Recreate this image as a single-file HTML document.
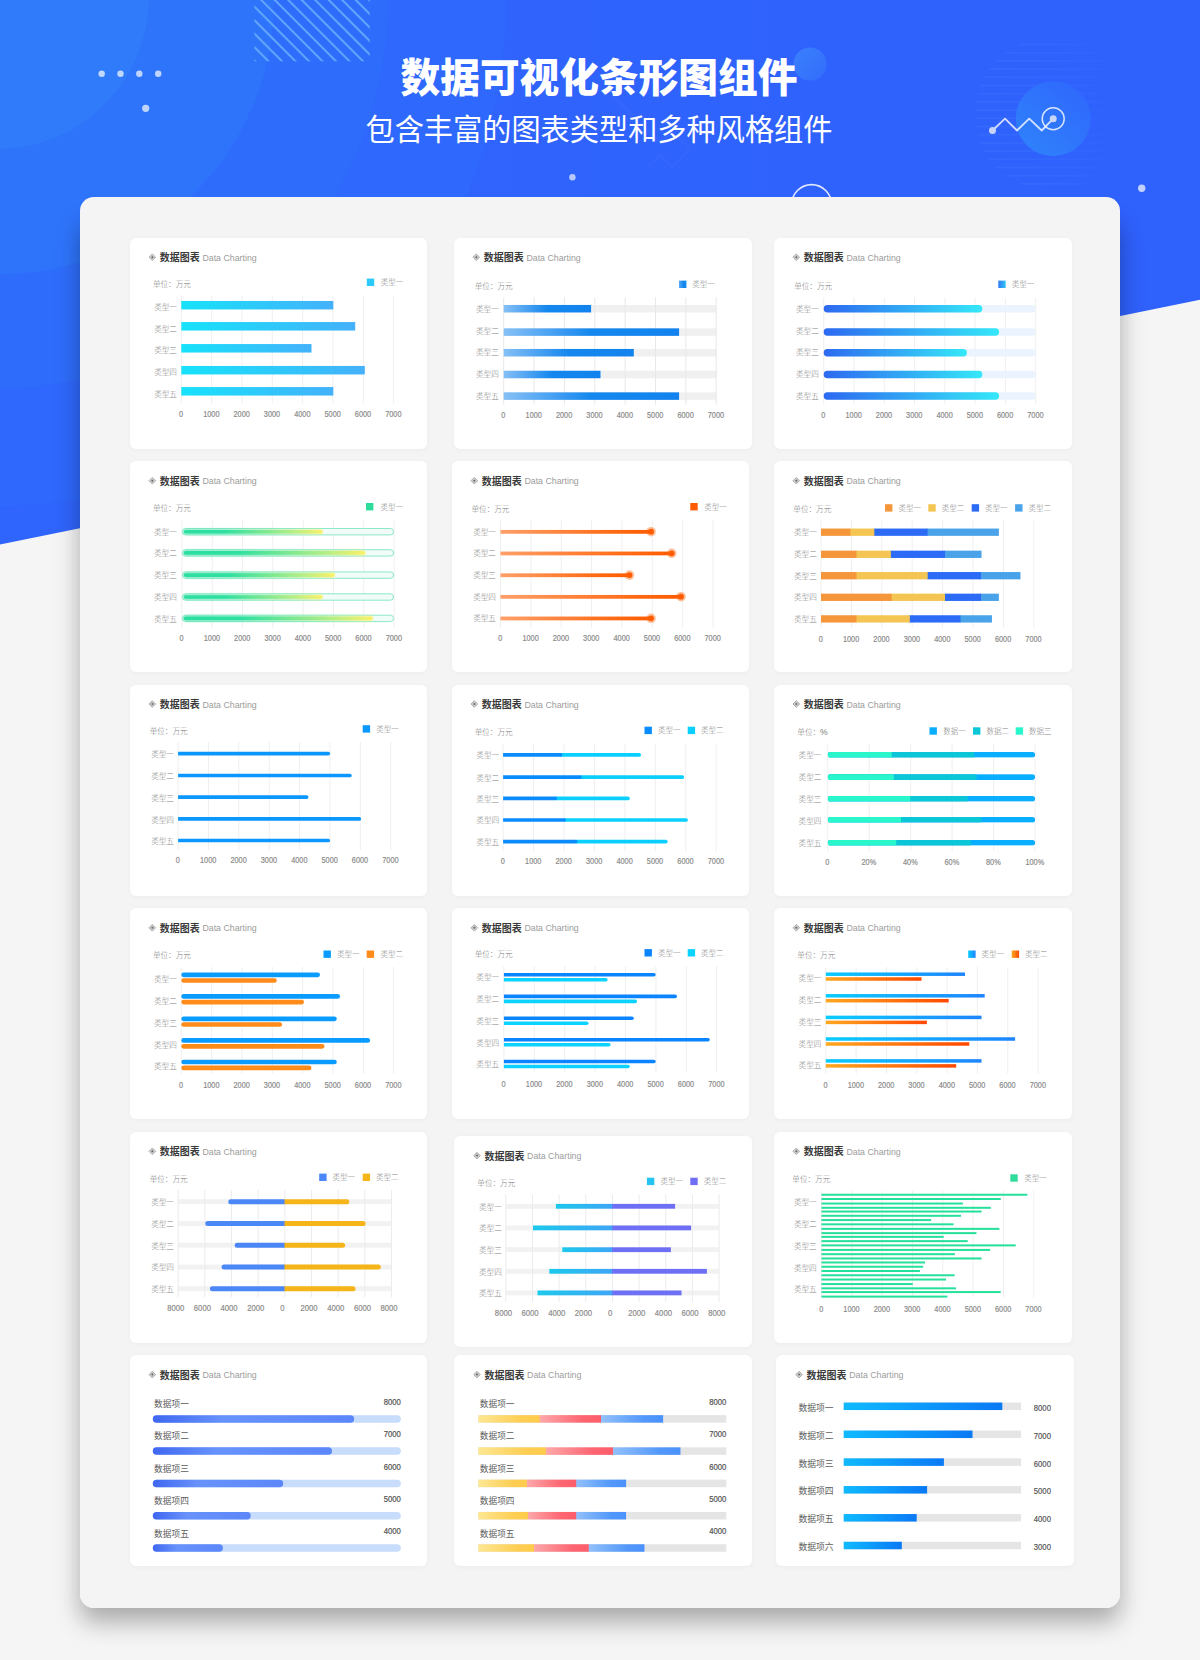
<!DOCTYPE html>
<html lang="zh-CN">
<head>
<meta charset="utf-8">
<title>数据可视化条形图组件</title>
<style>
html,body{margin:0;padding:0}
body{width:1200px;height:1660px;position:relative;overflow:hidden;background:#f5f5f5;font-family:"Liberation Sans", "Noto Sans CJK SC", sans-serif}
.hero{position:absolute;left:0;top:0;width:1200px;height:560px;background:linear-gradient(90deg,#2f65fc 0%,#2f61fd 100%);clip-path:polygon(0 0,1200px 0,1200px 299.8px,0 544.6px);overflow:hidden}
.hero svg{position:absolute;left:0;top:0}
h1{position:absolute;left:0;top:53.5px;width:1198px;margin:0;text-align:center;color:#fff;font-size:39.7px;line-height:48px;font-weight:900;letter-spacing:0}
h2{position:absolute;left:0;top:110.3px;width:1198px;margin:0;text-align:center;color:#fff;font-size:29.2px;line-height:40px;font-weight:normal}
.pshadow{position:absolute;left:80px;top:209px;width:1040px;height:1399px;border-radius:14px;box-shadow:0 14px 25px rgba(0,0,0,0.31)}
.panel{position:absolute;left:80px;top:197px;width:1040px;height:1411px;background:#f4f4f4;border-radius:14px}
.card{position:absolute;width:297.3px;height:211px;background:#fff;border-radius:6px;box-shadow:0 1px 5px rgba(0,0,0,0.035)}
.charts{position:absolute;left:0;top:0}
.charts text{font-family:"Liberation Sans", "Noto Sans CJK SC", sans-serif}
</style>
</head>
<body>
<div class="hero">
<svg width="1200" height="560" viewBox="0 0 1200 560">
<defs>
<clipPath id="stripeclip"><rect x="254.5" y="0" width="115.2" height="61.3"/></clipPath>
<clipPath id="circclip"><circle cx="1052" cy="114" r="77"/></clipPath>
<linearGradient id="gsm" x1="0" y1="0" x2="1" y2="1"><stop offset="0" stop-color="#3a80fc"/><stop offset="1" stop-color="#336dfc"/></linearGradient>
<linearGradient id="gbig" x1="0.15" y1="0.9" x2="0.85" y2="0.1"><stop offset="0" stop-color="#2f80fb"/><stop offset="1" stop-color="#2f69fc"/></linearGradient>
<linearGradient id="gline" gradientUnits="userSpaceOnUse" x1="975" y1="0" x2="1125" y2="0"><stop offset="0" stop-color="#4a8cff" stop-opacity="0.55"/><stop offset="0.55" stop-color="#4a8cff" stop-opacity="0.4"/><stop offset="1" stop-color="#4a8cff" stop-opacity="0"/></linearGradient>
</defs>
<circle cx="0" cy="0" r="506" fill="#2e68fc"/>
<circle cx="0" cy="0" r="388" fill="#2e6dfb"/>
<circle cx="0" cy="0" r="274" fill="#2e74fb"/>
<circle cx="-3" cy="-3" r="152" fill="#2f7bfa"/>
<g clip-path="url(#stripeclip)" stroke="#66abfa" stroke-opacity="0.9" stroke-width="2.05">
<line x1="121.25" y1="-5" x2="201.25" y2="75"/>
<line x1="134.75" y1="-5" x2="214.75" y2="75"/>
<line x1="148.25" y1="-5" x2="228.25" y2="75"/>
<line x1="161.75" y1="-5" x2="241.75" y2="75"/>
<line x1="175.25" y1="-5" x2="255.25" y2="75"/>
<line x1="188.75" y1="-5" x2="268.75" y2="75"/>
<line x1="202.25" y1="-5" x2="282.25" y2="75"/>
<line x1="215.75" y1="-5" x2="295.75" y2="75"/>
<line x1="229.25" y1="-5" x2="309.25" y2="75"/>
<line x1="242.75" y1="-5" x2="322.75" y2="75"/>
<line x1="256.25" y1="-5" x2="336.25" y2="75"/>
<line x1="269.75" y1="-5" x2="349.75" y2="75"/>
<line x1="283.25" y1="-5" x2="363.25" y2="75"/>
<line x1="296.75" y1="-5" x2="376.75" y2="75"/>
<line x1="310.25" y1="-5" x2="390.25" y2="75"/>
<line x1="323.75" y1="-5" x2="403.75" y2="75"/>
<line x1="337.25" y1="-5" x2="417.25" y2="75"/>
<line x1="350.75" y1="-5" x2="430.75" y2="75"/>
<line x1="364.25" y1="-5" x2="444.25" y2="75"/>
<line x1="377.75" y1="-5" x2="457.75" y2="75"/>
</g>
<circle cx="101.7" cy="73.7" r="3.2" fill="#fff" fill-opacity="0.7"/>
<circle cx="120.5" cy="73.7" r="3.2" fill="#fff" fill-opacity="0.7"/>
<circle cx="139.3" cy="73.7" r="3.2" fill="#fff" fill-opacity="0.7"/>
<circle cx="158.2" cy="73.7" r="3.2" fill="#fff" fill-opacity="0.7"/>
<circle cx="145.7" cy="108.3" r="3.6" fill="#fff" fill-opacity="0.7"/>
<circle cx="572.4" cy="177.2" r="3.2" fill="#fff" fill-opacity="0.65"/>
<circle cx="1141.7" cy="188.2" r="3.7" fill="#fff" fill-opacity="0.7"/>
<circle cx="810" cy="64" r="16.5" fill="url(#gsm)"/>
<circle cx="811.6" cy="204.6" r="20" fill="none" stroke="#fff" stroke-opacity="0.85" stroke-width="1.6"/>
<g clip-path="url(#circclip)" stroke="#4f8dff" stroke-opacity="0.35" stroke-width="1.6">
<line x1="970" y1="44.5" x2="1130" y2="44.51" stroke="url(#gline)"/>
<line x1="970" y1="52.7" x2="1130" y2="52.71" stroke="url(#gline)"/>
<line x1="970" y1="60.9" x2="1130" y2="60.91" stroke="url(#gline)"/>
<line x1="970" y1="69.1" x2="1130" y2="69.11" stroke="url(#gline)"/>
<line x1="970" y1="77.3" x2="1130" y2="77.31" stroke="url(#gline)"/>
<line x1="970" y1="85.5" x2="1130" y2="85.51" stroke="url(#gline)"/>
<line x1="970" y1="93.7" x2="1130" y2="93.71" stroke="url(#gline)"/>
<line x1="970" y1="101.9" x2="1130" y2="101.91" stroke="url(#gline)"/>
<line x1="970" y1="110.1" x2="1130" y2="110.11" stroke="url(#gline)"/>
<line x1="970" y1="118.3" x2="1130" y2="118.31" stroke="url(#gline)"/>
<line x1="970" y1="126.5" x2="1130" y2="126.51" stroke="url(#gline)"/>
<line x1="970" y1="134.7" x2="1130" y2="134.71" stroke="url(#gline)"/>
<line x1="970" y1="142.9" x2="1130" y2="142.91" stroke="url(#gline)"/>
<line x1="970" y1="151.1" x2="1130" y2="151.11" stroke="url(#gline)"/>
<line x1="970" y1="159.3" x2="1130" y2="159.31" stroke="url(#gline)"/>
<line x1="970" y1="167.5" x2="1130" y2="167.51" stroke="url(#gline)"/>
<line x1="970" y1="175.7" x2="1130" y2="175.71" stroke="url(#gline)"/>
<line x1="970" y1="183.9" x2="1130" y2="183.91" stroke="url(#gline)"/>
</g>
<circle cx="1053.3" cy="118.7" r="37.5" fill="url(#gbig)"/>
<polyline points="992.5,130.5 1005,118.7 1017,130.5 1029.2,118.7 1041.7,130.5 1053.2,118.7" fill="none" stroke="#fff" stroke-opacity="0.78" stroke-width="1.8" stroke-linejoin="round"/>
<circle cx="992.5" cy="130.5" r="3.5" fill="#c9d4fb"/>
<circle cx="1053.2" cy="118.7" r="3.5" fill="#c9d4fb"/>
<circle cx="1053.2" cy="118.7" r="11" fill="none" stroke="#fff" stroke-opacity="0.8" stroke-width="1.5"/>
<polyline points="612,95 660,143 672,131 690,149 672,167 660,155 648,167" fill="none" stroke="#fff" stroke-opacity="0.025" stroke-width="3"/>
</svg>
</div>
<h1>数据可视化条形图组件</h1>
<h2>包含丰富的图表类型和多种风格组件</h2>
<div class="pshadow"></div>
<div class="panel"></div>
<div class="card" style="left:130px;top:238px"></div><div class="card" style="left:454px;top:238px;width:298px"></div><div class="card" style="left:774px;top:238px;width:298px"></div><div class="card" style="left:130px;top:461.4px"></div><div class="card" style="left:452px;top:461.4px"></div><div class="card" style="left:774px;top:461.4px;width:298px"></div><div class="card" style="left:130px;top:684.8px"></div><div class="card" style="left:452px;top:684.8px"></div><div class="card" style="left:774px;top:684.8px;width:298px"></div><div class="card" style="left:130px;top:908.2px"></div><div class="card" style="left:452px;top:908.2px"></div><div class="card" style="left:774px;top:908.2px;width:298px"></div><div class="card" style="left:130px;top:1131.7px"></div><div class="card" style="left:454px;top:1135.8px;width:298px"></div><div class="card" style="left:774px;top:1131.7px;width:298px"></div><div class="card" style="left:130px;top:1355px"></div><div class="card" style="left:454.2px;top:1355px;width:298px"></div><div class="card" style="left:776.2px;top:1355px;width:298px"></div>
<svg class="charts" width="1200" height="1660" viewBox="0 0 1200 1660">
<defs>
<linearGradient id="g1" x1="0" y1="0" x2="1" y2="0"><stop offset="0" stop-color="#17e2fa"/><stop offset="1" stop-color="#44b1fb"/></linearGradient>
<linearGradient id="g2" x1="0" y1="0" x2="1" y2="0"><stop offset="0" stop-color="#86c0f6"/><stop offset="0.5" stop-color="#1487ee"/><stop offset="1" stop-color="#1283ee"/></linearGradient>
<linearGradient id="g2l" x1="0" y1="0" x2="1" y2="0"><stop offset="0" stop-color="#5aa9f3"/><stop offset="0.6" stop-color="#1487ee"/></linearGradient>
<linearGradient id="g3" x1="0" y1="0" x2="1" y2="0"><stop offset="0" stop-color="#2d69f0"/><stop offset="1" stop-color="#35e8f8"/></linearGradient>
<linearGradient id="g3l" x1="0" y1="0" x2="1" y2="0"><stop offset="0" stop-color="#2d7af2"/><stop offset="1" stop-color="#33c4f6"/></linearGradient>
<linearGradient id="g4" x1="0" y1="0" x2="1" y2="0"><stop offset="0" stop-color="#2bdfa0"/><stop offset="0.3" stop-color="#2fe0a0"/><stop offset="0.8" stop-color="#b9ee84"/><stop offset="1" stop-color="#fbf168"/></linearGradient>
<filter id="glow4" x="-5%" y="-100%" width="110%" height="300%"><feGaussianBlur stdDeviation="1.1"/></filter>
<linearGradient id="g5" x1="0" y1="0" x2="1" y2="0"><stop offset="0" stop-color="#ff9f68"/><stop offset="0.75" stop-color="#ff6a14"/><stop offset="1" stop-color="#ff5b00"/></linearGradient>
<clipPath id="c9_0"><rect x="827.7" y="751.9" width="207.4" height="5.6" rx="2.8"/></clipPath>
<clipPath id="c9_1"><rect x="827.7" y="774.3" width="207.4" height="5.6" rx="2.8"/></clipPath>
<clipPath id="c9_2"><rect x="827.7" y="795.9" width="207.4" height="5.6" rx="2.8"/></clipPath>
<clipPath id="c9_3"><rect x="827.7" y="816.9" width="207.4" height="5.6" rx="2.8"/></clipPath>
<clipPath id="c9_4"><rect x="827.7" y="839.9" width="207.4" height="5.6" rx="2.8"/></clipPath>
<linearGradient id="g12b" x1="0" y1="0" x2="1" y2="0"><stop offset="0" stop-color="#09ccff"/><stop offset="1" stop-color="#1e84ff"/></linearGradient>
<linearGradient id="g12o" x1="0" y1="0" x2="1" y2="0"><stop offset="0" stop-color="#ffa820"/><stop offset="1" stop-color="#ff4800"/></linearGradient>
<linearGradient id="g14" x1="0" y1="0" x2="1" y2="0"><stop offset="0" stop-color="#1cc9ec"/><stop offset="1" stop-color="#3ea6f6"/></linearGradient>
<linearGradient id="g16" x1="0" y1="0" x2="1" y2="0"><stop offset="0" stop-color="#3f67f1"/><stop offset="0.35" stop-color="#6892fb"/><stop offset="1" stop-color="#5b87fa"/></linearGradient>
<linearGradient id="g17y" x1="0" y1="0" x2="1" y2="0"><stop offset="0" stop-color="#fde793"/><stop offset="0.7" stop-color="#fece54"/><stop offset="1" stop-color="#ffcb4a"/></linearGradient>
<linearGradient id="g17r" x1="0" y1="0" x2="1" y2="0"><stop offset="0" stop-color="#fda9ab"/><stop offset="0.7" stop-color="#fe6571"/><stop offset="1" stop-color="#ff5d6b"/></linearGradient>
<linearGradient id="g17b" x1="0" y1="0" x2="1" y2="0"><stop offset="0" stop-color="#93c1fb"/><stop offset="0.7" stop-color="#5298fb"/><stop offset="1" stop-color="#4a91fd"/></linearGradient>
<linearGradient id="g18" x1="0" y1="0" x2="1" y2="0"><stop offset="0" stop-color="#0fbaff"/><stop offset="1" stop-color="#0a79f5"/></linearGradient>
</defs>
<path d="M149 257.2L152.3 253.9L155.6 257.2L152.3 260.5Z" fill="#cfcfcf" stroke="#a6a6a6" stroke-width="0.9"/>
<path d="M151.05 257.2L152.3 255.95L153.55 257.2L152.3 258.45Z" fill="#666"/>
<text x="159.8" y="261.25" font-size="10" fill="#3a3a3a" font-weight="bold">数据图表</text>
<text x="202.4" y="260.77" font-size="8.8" fill="#9c9c9c">Data Charting</text>
<text x="152.9" y="287.01" font-size="7.6" fill="#7c7c7c" font-weight="300">单位：万元</text>
<rect x="366.8" y="278.6" width="7.4" height="7.4" fill="#2cc9fb"/>
<text x="380.8" y="285.38" font-size="7.5" fill="#828282" font-weight="300">类型一</text>
<rect x="180.8" y="295.3" width="1" height="108" fill="#efefef"/>
<rect x="211.13" y="295.3" width="1" height="108" fill="#efefef"/>
<rect x="241.46" y="295.3" width="1" height="108" fill="#efefef"/>
<rect x="271.79" y="295.3" width="1" height="108" fill="#efefef"/>
<rect x="302.11" y="295.3" width="1" height="108" fill="#efefef"/>
<rect x="332.44" y="295.3" width="1" height="108" fill="#efefef"/>
<rect x="362.77" y="295.3" width="1" height="108" fill="#efefef"/>
<rect x="393.1" y="295.3" width="1" height="108" fill="#efefef"/>
<text x="154.2" y="309.91" font-size="7.6" fill="#828282" font-weight="300">类型一</text>
<text x="154.2" y="331.81" font-size="7.6" fill="#828282" font-weight="300">类型二</text>
<text x="154.2" y="353.21" font-size="7.6" fill="#828282" font-weight="300">类型三</text>
<text x="154.2" y="375.11" font-size="7.6" fill="#828282" font-weight="300">类型四</text>
<text x="154.2" y="397.01" font-size="7.6" fill="#828282" font-weight="300">类型五</text>
<rect x="181.3" y="300.95" width="152" height="8.5" fill="url(#g1)"/>
<rect x="181.3" y="322.05" width="173.9" height="8.5" fill="url(#g1)"/>
<rect x="181.3" y="344.05" width="130.2" height="8.5" fill="url(#g1)"/>
<rect x="181.3" y="365.95" width="183.5" height="8.5" fill="url(#g1)"/>
<rect x="181.3" y="387.05" width="152" height="8.5" fill="url(#g1)"/>
<text transform="translate(181 416.8) scale(0.79 1)" font-size="9.3" fill="#8a8a8a" stroke="#8a8a8a" stroke-width="0.2" text-anchor="middle">0</text>
<text transform="translate(211.33 416.8) scale(0.79 1)" font-size="9.3" fill="#8a8a8a" stroke="#8a8a8a" stroke-width="0.2" text-anchor="middle">1000</text>
<text transform="translate(241.66 416.8) scale(0.79 1)" font-size="9.3" fill="#8a8a8a" stroke="#8a8a8a" stroke-width="0.2" text-anchor="middle">2000</text>
<text transform="translate(271.99 416.8) scale(0.79 1)" font-size="9.3" fill="#8a8a8a" stroke="#8a8a8a" stroke-width="0.2" text-anchor="middle">3000</text>
<text transform="translate(302.31 416.8) scale(0.79 1)" font-size="9.3" fill="#8a8a8a" stroke="#8a8a8a" stroke-width="0.2" text-anchor="middle">4000</text>
<text transform="translate(332.64 416.8) scale(0.79 1)" font-size="9.3" fill="#8a8a8a" stroke="#8a8a8a" stroke-width="0.2" text-anchor="middle">5000</text>
<text transform="translate(362.97 416.8) scale(0.79 1)" font-size="9.3" fill="#8a8a8a" stroke="#8a8a8a" stroke-width="0.2" text-anchor="middle">6000</text>
<text transform="translate(393.3 416.8) scale(0.79 1)" font-size="9.3" fill="#8a8a8a" stroke="#8a8a8a" stroke-width="0.2" text-anchor="middle">7000</text>
<path d="M473 257.2L476.3 253.9L479.6 257.2L476.3 260.5Z" fill="#cfcfcf" stroke="#a6a6a6" stroke-width="0.9"/>
<path d="M475.05 257.2L476.3 255.95L477.55 257.2L476.3 258.45Z" fill="#666"/>
<text x="483.8" y="261.25" font-size="10" fill="#3a3a3a" font-weight="bold">数据图表</text>
<text x="526.4" y="260.77" font-size="8.8" fill="#9c9c9c">Data Charting</text>
<text x="474.7" y="289.01" font-size="7.6" fill="#7c7c7c" font-weight="300">单位：万元</text>
<rect x="679" y="280.6" width="7.4" height="7.4" fill="url(#g2l)"/>
<text x="692.2" y="287.38" font-size="7.5" fill="#828282" font-weight="300">类型一</text>
<rect x="503.7" y="304.95" width="212.5" height="7.5" fill="#f0f0f0"/>
<rect x="503.7" y="328.35" width="212.5" height="7.5" fill="#f0f0f0"/>
<rect x="503.7" y="348.95" width="212.5" height="7.5" fill="#f0f0f0"/>
<rect x="503.7" y="370.75" width="212.5" height="7.5" fill="#f0f0f0"/>
<rect x="503.7" y="392.35" width="212.5" height="7.5" fill="#f0f0f0"/>
<rect x="503.2" y="297.5" width="1" height="107.2" fill="#e8e8e8"/>
<rect x="533.56" y="297.5" width="1" height="107.2" fill="#e8e8e8"/>
<rect x="563.91" y="297.5" width="1" height="107.2" fill="#e8e8e8"/>
<rect x="594.27" y="297.5" width="1" height="107.2" fill="#e8e8e8"/>
<rect x="624.63" y="297.5" width="1" height="107.2" fill="#e8e8e8"/>
<rect x="654.99" y="297.5" width="1" height="107.2" fill="#e8e8e8"/>
<rect x="685.34" y="297.5" width="1" height="107.2" fill="#e8e8e8"/>
<rect x="715.7" y="297.5" width="1" height="107.2" fill="#e8e8e8"/>
<text x="476" y="312.21" font-size="7.6" fill="#828282" font-weight="300">类型一</text>
<text x="476" y="333.81" font-size="7.6" fill="#828282" font-weight="300">类型二</text>
<text x="476" y="355.41" font-size="7.6" fill="#828282" font-weight="300">类型三</text>
<text x="476" y="377.21" font-size="7.6" fill="#828282" font-weight="300">类型四</text>
<text x="476" y="398.81" font-size="7.6" fill="#828282" font-weight="300">类型五</text>
<rect x="503.7" y="304.95" width="87.4" height="7.5" fill="url(#g2)"/>
<rect x="503.7" y="328.35" width="175.4" height="7.5" fill="url(#g2)"/>
<rect x="503.7" y="348.95" width="130.1" height="7.5" fill="url(#g2)"/>
<rect x="503.7" y="370.75" width="96.8" height="7.5" fill="url(#g2)"/>
<rect x="503.7" y="392.35" width="175.4" height="7.5" fill="url(#g2)"/>
<text transform="translate(503.4 418.4) scale(0.79 1)" font-size="9.3" fill="#8a8a8a" stroke="#8a8a8a" stroke-width="0.2" text-anchor="middle">0</text>
<text transform="translate(533.76 418.4) scale(0.79 1)" font-size="9.3" fill="#8a8a8a" stroke="#8a8a8a" stroke-width="0.2" text-anchor="middle">1000</text>
<text transform="translate(564.11 418.4) scale(0.79 1)" font-size="9.3" fill="#8a8a8a" stroke="#8a8a8a" stroke-width="0.2" text-anchor="middle">2000</text>
<text transform="translate(594.47 418.4) scale(0.79 1)" font-size="9.3" fill="#8a8a8a" stroke="#8a8a8a" stroke-width="0.2" text-anchor="middle">3000</text>
<text transform="translate(624.83 418.4) scale(0.79 1)" font-size="9.3" fill="#8a8a8a" stroke="#8a8a8a" stroke-width="0.2" text-anchor="middle">4000</text>
<text transform="translate(655.19 418.4) scale(0.79 1)" font-size="9.3" fill="#8a8a8a" stroke="#8a8a8a" stroke-width="0.2" text-anchor="middle">5000</text>
<text transform="translate(685.54 418.4) scale(0.79 1)" font-size="9.3" fill="#8a8a8a" stroke="#8a8a8a" stroke-width="0.2" text-anchor="middle">6000</text>
<text transform="translate(715.9 418.4) scale(0.79 1)" font-size="9.3" fill="#8a8a8a" stroke="#8a8a8a" stroke-width="0.2" text-anchor="middle">7000</text>
<path d="M793 257.2L796.3 253.9L799.6 257.2L796.3 260.5Z" fill="#cfcfcf" stroke="#a6a6a6" stroke-width="0.9"/>
<path d="M795.05 257.2L796.3 255.95L797.55 257.2L796.3 258.45Z" fill="#666"/>
<text x="803.8" y="261.25" font-size="10" fill="#3a3a3a" font-weight="bold">数据图表</text>
<text x="846.4" y="260.77" font-size="8.8" fill="#9c9c9c">Data Charting</text>
<text x="794.2" y="289.01" font-size="7.6" fill="#7c7c7c" font-weight="300">单位：万元</text>
<rect x="998.3" y="280.6" width="7.4" height="7.4" fill="url(#g3l)"/>
<text x="1011.8" y="287.38" font-size="7.5" fill="#828282" font-weight="300">类型一</text>
<rect x="823.2" y="297.5" width="1" height="107.2" fill="#efefef"/>
<rect x="853.49" y="297.5" width="1" height="107.2" fill="#efefef"/>
<rect x="883.77" y="297.5" width="1" height="107.2" fill="#efefef"/>
<rect x="914.06" y="297.5" width="1" height="107.2" fill="#efefef"/>
<rect x="944.34" y="297.5" width="1" height="107.2" fill="#efefef"/>
<rect x="974.63" y="297.5" width="1" height="107.2" fill="#efefef"/>
<rect x="1004.91" y="297.5" width="1" height="107.2" fill="#efefef"/>
<rect x="1035.2" y="297.5" width="1" height="107.2" fill="#efefef"/>
<text x="796" y="312.21" font-size="7.6" fill="#828282" font-weight="300">类型一</text>
<text x="796" y="333.81" font-size="7.6" fill="#828282" font-weight="300">类型二</text>
<text x="796" y="355.41" font-size="7.6" fill="#828282" font-weight="300">类型三</text>
<text x="796" y="377.21" font-size="7.6" fill="#828282" font-weight="300">类型四</text>
<text x="796" y="398.81" font-size="7.6" fill="#828282" font-weight="300">类型五</text>
<rect x="823.7" y="304.95" width="212" height="7.5" fill="#e9f3fe" rx="3.75" fill-opacity="0.92"/>
<rect x="823.7" y="304.95" width="158.6" height="7.5" fill="url(#g3)" rx="3.75"/>
<rect x="823.7" y="328.35" width="212" height="7.5" fill="#e9f3fe" rx="3.75" fill-opacity="0.92"/>
<rect x="823.7" y="328.35" width="175.4" height="7.5" fill="url(#g3)" rx="3.75"/>
<rect x="823.7" y="348.95" width="212" height="7.5" fill="#e9f3fe" rx="3.75" fill-opacity="0.92"/>
<rect x="823.7" y="348.95" width="143.2" height="7.5" fill="url(#g3)" rx="3.75"/>
<rect x="823.7" y="370.75" width="212" height="7.5" fill="#e9f3fe" rx="3.75" fill-opacity="0.92"/>
<rect x="823.7" y="370.75" width="158.6" height="7.5" fill="url(#g3)" rx="3.75"/>
<rect x="823.7" y="392.35" width="212" height="7.5" fill="#e9f3fe" rx="3.75" fill-opacity="0.92"/>
<rect x="823.7" y="392.35" width="175.4" height="7.5" fill="url(#g3)" rx="3.75"/>
<text transform="translate(823.4 418.4) scale(0.79 1)" font-size="9.3" fill="#8a8a8a" stroke="#8a8a8a" stroke-width="0.2" text-anchor="middle">0</text>
<text transform="translate(853.69 418.4) scale(0.79 1)" font-size="9.3" fill="#8a8a8a" stroke="#8a8a8a" stroke-width="0.2" text-anchor="middle">1000</text>
<text transform="translate(883.97 418.4) scale(0.79 1)" font-size="9.3" fill="#8a8a8a" stroke="#8a8a8a" stroke-width="0.2" text-anchor="middle">2000</text>
<text transform="translate(914.26 418.4) scale(0.79 1)" font-size="9.3" fill="#8a8a8a" stroke="#8a8a8a" stroke-width="0.2" text-anchor="middle">3000</text>
<text transform="translate(944.54 418.4) scale(0.79 1)" font-size="9.3" fill="#8a8a8a" stroke="#8a8a8a" stroke-width="0.2" text-anchor="middle">4000</text>
<text transform="translate(974.83 418.4) scale(0.79 1)" font-size="9.3" fill="#8a8a8a" stroke="#8a8a8a" stroke-width="0.2" text-anchor="middle">5000</text>
<text transform="translate(1005.11 418.4) scale(0.79 1)" font-size="9.3" fill="#8a8a8a" stroke="#8a8a8a" stroke-width="0.2" text-anchor="middle">6000</text>
<text transform="translate(1035.4 418.4) scale(0.79 1)" font-size="9.3" fill="#8a8a8a" stroke="#8a8a8a" stroke-width="0.2" text-anchor="middle">7000</text>
<path d="M149 480.7L152.3 477.4L155.6 480.7L152.3 484Z" fill="#cfcfcf" stroke="#a6a6a6" stroke-width="0.9"/>
<path d="M151.05 480.7L152.3 479.45L153.55 480.7L152.3 481.95Z" fill="#666"/>
<text x="159.8" y="484.75" font-size="10" fill="#3a3a3a" font-weight="bold">数据图表</text>
<text x="202.4" y="484.27" font-size="8.8" fill="#9c9c9c">Data Charting</text>
<text x="152.9" y="511.41" font-size="7.6" fill="#7c7c7c" font-weight="300">单位：万元</text>
<rect x="366" y="503" width="7.4" height="7.4" fill="#2fdc9c"/>
<text x="380.4" y="509.77" font-size="7.5" fill="#828282" font-weight="300">类型一</text>
<rect x="181.4" y="520.2" width="1" height="107.5" fill="#efefef"/>
<rect x="211.71" y="520.2" width="1" height="107.5" fill="#efefef"/>
<rect x="242.03" y="520.2" width="1" height="107.5" fill="#efefef"/>
<rect x="272.34" y="520.2" width="1" height="107.5" fill="#efefef"/>
<rect x="302.66" y="520.2" width="1" height="107.5" fill="#efefef"/>
<rect x="332.97" y="520.2" width="1" height="107.5" fill="#efefef"/>
<rect x="363.29" y="520.2" width="1" height="107.5" fill="#efefef"/>
<rect x="393.6" y="520.2" width="1" height="107.5" fill="#efefef"/>
<text x="154" y="534.81" font-size="7.6" fill="#828282" font-weight="300">类型一</text>
<text x="154" y="556.01" font-size="7.6" fill="#828282" font-weight="300">类型二</text>
<text x="154" y="578.21" font-size="7.6" fill="#828282" font-weight="300">类型三</text>
<text x="154" y="600.11" font-size="7.6" fill="#828282" font-weight="300">类型四</text>
<text x="154" y="621.51" font-size="7.6" fill="#828282" font-weight="300">类型五</text>
<rect x="182.4" y="528.5" width="211.2" height="6.4" rx="3.2" fill="#f1fbf7" stroke="#7fe6c1" stroke-width="0.9"/>
<rect x="183.4" y="528.9" width="139.3" height="5.6" fill="url(#g4)" rx="2.8" filter="url(#glow4)" opacity="0.55"/>
<rect x="183.7" y="529.9" width="139" height="3.6" fill="url(#g4)" rx="1.8"/>
<rect x="182.4" y="549.7" width="211.2" height="6.4" rx="3.2" fill="#f1fbf7" stroke="#7fe6c1" stroke-width="0.9"/>
<rect x="183.4" y="550.1" width="181.9" height="5.6" fill="url(#g4)" rx="2.8" filter="url(#glow4)" opacity="0.55"/>
<rect x="183.7" y="551.1" width="181.6" height="3.6" fill="url(#g4)" rx="1.8"/>
<rect x="182.4" y="571.9" width="211.2" height="6.4" rx="3.2" fill="#f1fbf7" stroke="#7fe6c1" stroke-width="0.9"/>
<rect x="183.4" y="572.3" width="151.5" height="5.6" fill="url(#g4)" rx="2.8" filter="url(#glow4)" opacity="0.55"/>
<rect x="183.7" y="573.3" width="151.2" height="3.6" fill="url(#g4)" rx="1.8"/>
<rect x="182.4" y="593.8" width="211.2" height="6.4" rx="3.2" fill="#f1fbf7" stroke="#7fe6c1" stroke-width="0.9"/>
<rect x="183.4" y="594.2" width="139.3" height="5.6" fill="url(#g4)" rx="2.8" filter="url(#glow4)" opacity="0.55"/>
<rect x="183.7" y="595.2" width="139" height="3.6" fill="url(#g4)" rx="1.8"/>
<rect x="182.4" y="615.2" width="211.2" height="6.4" rx="3.2" fill="#f1fbf7" stroke="#7fe6c1" stroke-width="0.9"/>
<rect x="183.4" y="615.6" width="189.4" height="5.6" fill="url(#g4)" rx="2.8" filter="url(#glow4)" opacity="0.55"/>
<rect x="183.7" y="616.6" width="189.1" height="3.6" fill="url(#g4)" rx="1.8"/>
<text transform="translate(181.6 641.3) scale(0.79 1)" font-size="9.3" fill="#8a8a8a" stroke="#8a8a8a" stroke-width="0.2" text-anchor="middle">0</text>
<text transform="translate(211.91 641.3) scale(0.79 1)" font-size="9.3" fill="#8a8a8a" stroke="#8a8a8a" stroke-width="0.2" text-anchor="middle">1000</text>
<text transform="translate(242.23 641.3) scale(0.79 1)" font-size="9.3" fill="#8a8a8a" stroke="#8a8a8a" stroke-width="0.2" text-anchor="middle">2000</text>
<text transform="translate(272.54 641.3) scale(0.79 1)" font-size="9.3" fill="#8a8a8a" stroke="#8a8a8a" stroke-width="0.2" text-anchor="middle">3000</text>
<text transform="translate(302.86 641.3) scale(0.79 1)" font-size="9.3" fill="#8a8a8a" stroke="#8a8a8a" stroke-width="0.2" text-anchor="middle">4000</text>
<text transform="translate(333.17 641.3) scale(0.79 1)" font-size="9.3" fill="#8a8a8a" stroke="#8a8a8a" stroke-width="0.2" text-anchor="middle">5000</text>
<text transform="translate(363.49 641.3) scale(0.79 1)" font-size="9.3" fill="#8a8a8a" stroke="#8a8a8a" stroke-width="0.2" text-anchor="middle">6000</text>
<text transform="translate(393.8 641.3) scale(0.79 1)" font-size="9.3" fill="#8a8a8a" stroke="#8a8a8a" stroke-width="0.2" text-anchor="middle">7000</text>
<path d="M471 480.7L474.3 477.4L477.6 480.7L474.3 484Z" fill="#cfcfcf" stroke="#a6a6a6" stroke-width="0.9"/>
<path d="M473.05 480.7L474.3 479.45L475.55 480.7L474.3 481.95Z" fill="#666"/>
<text x="481.8" y="484.75" font-size="10" fill="#3a3a3a" font-weight="bold">数据图表</text>
<text x="524.4" y="484.27" font-size="8.8" fill="#9c9c9c">Data Charting</text>
<text x="471.5" y="511.81" font-size="7.6" fill="#7c7c7c" font-weight="300">单位：万元</text>
<rect x="690.3" y="503" width="7.4" height="7.4" fill="#ff5a00"/>
<text x="704.3" y="509.77" font-size="7.5" fill="#828282" font-weight="300">类型一</text>
<rect x="500" y="520.2" width="1" height="107.5" fill="#efefef"/>
<rect x="530.36" y="520.2" width="1" height="107.5" fill="#efefef"/>
<rect x="560.71" y="520.2" width="1" height="107.5" fill="#efefef"/>
<rect x="591.07" y="520.2" width="1" height="107.5" fill="#efefef"/>
<rect x="621.43" y="520.2" width="1" height="107.5" fill="#efefef"/>
<rect x="651.79" y="520.2" width="1" height="107.5" fill="#efefef"/>
<rect x="682.14" y="520.2" width="1" height="107.5" fill="#efefef"/>
<rect x="712.5" y="520.2" width="1" height="107.5" fill="#efefef"/>
<text x="473.2" y="534.61" font-size="7.6" fill="#828282" font-weight="300">类型一</text>
<text x="473.2" y="556.21" font-size="7.6" fill="#828282" font-weight="300">类型二</text>
<text x="473.2" y="578.01" font-size="7.6" fill="#828282" font-weight="300">类型三</text>
<text x="473.2" y="599.61" font-size="7.6" fill="#828282" font-weight="300">类型四</text>
<text x="473.2" y="621.21" font-size="7.6" fill="#828282" font-weight="300">类型五</text>
<rect x="500.5" y="529.95" width="150.6" height="3.8" fill="url(#g5)"/>
<circle cx="651.1" cy="531.7" r="4.8" fill="#ff6a14" fill-opacity="0.42"/>
<circle cx="651.1" cy="531.7" r="2.9" fill="#ff5b00"/>
<rect x="500.5" y="551.55" width="171.2" height="3.8" fill="url(#g5)"/>
<circle cx="671.7" cy="553.3" r="4.8" fill="#ff6a14" fill-opacity="0.42"/>
<circle cx="671.7" cy="553.3" r="2.9" fill="#ff5b00"/>
<rect x="500.5" y="573.35" width="129" height="3.8" fill="url(#g5)"/>
<circle cx="629.5" cy="575.1" r="4.8" fill="#ff6a14" fill-opacity="0.42"/>
<circle cx="629.5" cy="575.1" r="2.9" fill="#ff5b00"/>
<rect x="500.5" y="594.95" width="180.5" height="3.8" fill="url(#g5)"/>
<circle cx="681" cy="596.7" r="4.8" fill="#ff6a14" fill-opacity="0.42"/>
<circle cx="681" cy="596.7" r="2.9" fill="#ff5b00"/>
<rect x="500.5" y="616.55" width="150.6" height="3.8" fill="url(#g5)"/>
<circle cx="651.1" cy="618.3" r="4.8" fill="#ff6a14" fill-opacity="0.42"/>
<circle cx="651.1" cy="618.3" r="2.9" fill="#ff5b00"/>
<text transform="translate(500.2 641) scale(0.79 1)" font-size="9.3" fill="#8a8a8a" stroke="#8a8a8a" stroke-width="0.2" text-anchor="middle">0</text>
<text transform="translate(530.56 641) scale(0.79 1)" font-size="9.3" fill="#8a8a8a" stroke="#8a8a8a" stroke-width="0.2" text-anchor="middle">1000</text>
<text transform="translate(560.91 641) scale(0.79 1)" font-size="9.3" fill="#8a8a8a" stroke="#8a8a8a" stroke-width="0.2" text-anchor="middle">2000</text>
<text transform="translate(591.27 641) scale(0.79 1)" font-size="9.3" fill="#8a8a8a" stroke="#8a8a8a" stroke-width="0.2" text-anchor="middle">3000</text>
<text transform="translate(621.63 641) scale(0.79 1)" font-size="9.3" fill="#8a8a8a" stroke="#8a8a8a" stroke-width="0.2" text-anchor="middle">4000</text>
<text transform="translate(651.99 641) scale(0.79 1)" font-size="9.3" fill="#8a8a8a" stroke="#8a8a8a" stroke-width="0.2" text-anchor="middle">5000</text>
<text transform="translate(682.34 641) scale(0.79 1)" font-size="9.3" fill="#8a8a8a" stroke="#8a8a8a" stroke-width="0.2" text-anchor="middle">6000</text>
<text transform="translate(712.7 641) scale(0.79 1)" font-size="9.3" fill="#8a8a8a" stroke="#8a8a8a" stroke-width="0.2" text-anchor="middle">7000</text>
<path d="M793 480.7L796.3 477.4L799.6 480.7L796.3 484Z" fill="#cfcfcf" stroke="#a6a6a6" stroke-width="0.9"/>
<path d="M795.05 480.7L796.3 479.45L797.55 480.7L796.3 481.95Z" fill="#666"/>
<text x="803.8" y="484.75" font-size="10" fill="#3a3a3a" font-weight="bold">数据图表</text>
<text x="846.4" y="484.27" font-size="8.8" fill="#9c9c9c">Data Charting</text>
<text x="793.3" y="512.41" font-size="7.6" fill="#7c7c7c" font-weight="300">单位：万元</text>
<rect x="885" y="504.2" width="7.4" height="7.4" fill="#f5963b"/>
<text x="898.4" y="510.97" font-size="7.5" fill="#828282" font-weight="300">类型一</text>
<rect x="928.3" y="504.2" width="7.4" height="7.4" fill="#f4c552"/>
<text x="941.8" y="510.97" font-size="7.5" fill="#828282" font-weight="300">类型二</text>
<rect x="971.7" y="504.2" width="7.4" height="7.4" fill="#2b6bf6"/>
<text x="985.1" y="510.97" font-size="7.5" fill="#828282" font-weight="300">类型一</text>
<rect x="1015.1" y="504.2" width="7.4" height="7.4" fill="#4aa3e8"/>
<text x="1028.6" y="510.97" font-size="7.5" fill="#828282" font-weight="300">类型二</text>
<rect x="820.5" y="520.2" width="1" height="107.5" fill="#efefef"/>
<rect x="850.9" y="520.2" width="1" height="107.5" fill="#efefef"/>
<rect x="881.3" y="520.2" width="1" height="107.5" fill="#efefef"/>
<rect x="911.7" y="520.2" width="1" height="107.5" fill="#efefef"/>
<rect x="942.1" y="520.2" width="1" height="107.5" fill="#efefef"/>
<rect x="972.5" y="520.2" width="1" height="107.5" fill="#efefef"/>
<rect x="1002.9" y="520.2" width="1" height="107.5" fill="#efefef"/>
<rect x="1033.3" y="520.2" width="1" height="107.5" fill="#efefef"/>
<text x="794" y="535.11" font-size="7.6" fill="#828282" font-weight="300">类型一</text>
<text x="794" y="557.21" font-size="7.6" fill="#828282" font-weight="300">类型二</text>
<text x="794" y="578.61" font-size="7.6" fill="#828282" font-weight="300">类型三</text>
<text x="794" y="600.21" font-size="7.6" fill="#828282" font-weight="300">类型四</text>
<text x="794" y="621.81" font-size="7.6" fill="#828282" font-weight="300">类型五</text>
<rect x="927.07" y="528.55" width="71.8" height="7.3" fill="#4aa3e8"/>
<rect x="873.73" y="528.55" width="53.93" height="7.3" fill="#2b6bf6"/>
<rect x="849.73" y="528.55" width="24.6" height="7.3" fill="#f4c552"/>
<rect x="821" y="528.55" width="29.33" height="7.3" fill="#f5963b"/>
<rect x="944.4" y="550.65" width="37.13" height="7.3" fill="#4aa3e8"/>
<rect x="890.27" y="550.65" width="54.73" height="7.3" fill="#2b6bf6"/>
<rect x="855.87" y="550.65" width="35" height="7.3" fill="#f4c552"/>
<rect x="821" y="550.65" width="35.47" height="7.3" fill="#f5963b"/>
<rect x="980.4" y="572.05" width="40.07" height="7.3" fill="#4aa3e8"/>
<rect x="927.07" y="572.05" width="53.93" height="7.3" fill="#2b6bf6"/>
<rect x="855.87" y="572.05" width="71.8" height="7.3" fill="#f4c552"/>
<rect x="821" y="572.05" width="35.47" height="7.3" fill="#f5963b"/>
<rect x="980.4" y="593.65" width="18.47" height="7.3" fill="#4aa3e8"/>
<rect x="944.4" y="593.65" width="36.6" height="7.3" fill="#2b6bf6"/>
<rect x="891.07" y="593.65" width="53.93" height="7.3" fill="#f4c552"/>
<rect x="821" y="593.65" width="70.67" height="7.3" fill="#f5963b"/>
<rect x="959.87" y="615.25" width="32.07" height="7.3" fill="#4aa3e8"/>
<rect x="909.2" y="615.25" width="51.27" height="7.3" fill="#2b6bf6"/>
<rect x="855.87" y="615.25" width="53.93" height="7.3" fill="#f4c552"/>
<rect x="821" y="615.25" width="35.47" height="7.3" fill="#f5963b"/>
<text transform="translate(820.7 641.8) scale(0.79 1)" font-size="9.3" fill="#8a8a8a" stroke="#8a8a8a" stroke-width="0.2" text-anchor="middle">0</text>
<text transform="translate(851.1 641.8) scale(0.79 1)" font-size="9.3" fill="#8a8a8a" stroke="#8a8a8a" stroke-width="0.2" text-anchor="middle">1000</text>
<text transform="translate(881.5 641.8) scale(0.79 1)" font-size="9.3" fill="#8a8a8a" stroke="#8a8a8a" stroke-width="0.2" text-anchor="middle">2000</text>
<text transform="translate(911.9 641.8) scale(0.79 1)" font-size="9.3" fill="#8a8a8a" stroke="#8a8a8a" stroke-width="0.2" text-anchor="middle">3000</text>
<text transform="translate(942.3 641.8) scale(0.79 1)" font-size="9.3" fill="#8a8a8a" stroke="#8a8a8a" stroke-width="0.2" text-anchor="middle">4000</text>
<text transform="translate(972.7 641.8) scale(0.79 1)" font-size="9.3" fill="#8a8a8a" stroke="#8a8a8a" stroke-width="0.2" text-anchor="middle">5000</text>
<text transform="translate(1003.1 641.8) scale(0.79 1)" font-size="9.3" fill="#8a8a8a" stroke="#8a8a8a" stroke-width="0.2" text-anchor="middle">6000</text>
<text transform="translate(1033.5 641.8) scale(0.79 1)" font-size="9.3" fill="#8a8a8a" stroke="#8a8a8a" stroke-width="0.2" text-anchor="middle">7000</text>
<path d="M149 704L152.3 700.7L155.6 704L152.3 707.3Z" fill="#cfcfcf" stroke="#a6a6a6" stroke-width="0.9"/>
<path d="M151.05 704L152.3 702.75L153.55 704L152.3 705.25Z" fill="#666"/>
<text x="159.8" y="708.05" font-size="10" fill="#3a3a3a" font-weight="bold">数据图表</text>
<text x="202.4" y="707.57" font-size="8.8" fill="#9c9c9c">Data Charting</text>
<text x="149.7" y="733.61" font-size="7.6" fill="#7c7c7c" font-weight="300">单位：万元</text>
<rect x="362.7" y="725.2" width="7.4" height="7.4" fill="#0a97ff"/>
<text x="376.2" y="731.97" font-size="7.5" fill="#828282" font-weight="300">类型一</text>
<rect x="177.6" y="742.1" width="1" height="107.8" fill="#efefef"/>
<rect x="207.97" y="742.1" width="1" height="107.8" fill="#efefef"/>
<rect x="238.34" y="742.1" width="1" height="107.8" fill="#efefef"/>
<rect x="268.71" y="742.1" width="1" height="107.8" fill="#efefef"/>
<rect x="299.09" y="742.1" width="1" height="107.8" fill="#efefef"/>
<rect x="329.46" y="742.1" width="1" height="107.8" fill="#efefef"/>
<rect x="359.83" y="742.1" width="1" height="107.8" fill="#efefef"/>
<rect x="390.2" y="742.1" width="1" height="107.8" fill="#efefef"/>
<text x="151.2" y="757.41" font-size="7.6" fill="#828282" font-weight="300">类型一</text>
<text x="151.2" y="779.31" font-size="7.6" fill="#828282" font-weight="300">类型二</text>
<text x="151.2" y="800.91" font-size="7.6" fill="#828282" font-weight="300">类型三</text>
<text x="151.2" y="822.71" font-size="7.6" fill="#828282" font-weight="300">类型四</text>
<text x="151.2" y="844.31" font-size="7.6" fill="#828282" font-weight="300">类型五</text>
<path d="M178.1 751.75H328.25A1.85 1.85 0 0 1 328.25 755.45H178.1Z" fill="#0a97ff"/>
<path d="M178.1 773.65H349.85A1.85 1.85 0 0 1 349.85 777.35H178.1Z" fill="#0a97ff"/>
<path d="M178.1 795.25H306.65A1.85 1.85 0 0 1 306.65 798.95H178.1Z" fill="#0a97ff"/>
<path d="M178.1 817.05H359.25A1.85 1.85 0 0 1 359.25 820.75H178.1Z" fill="#0a97ff"/>
<path d="M178.1 838.65H328.25A1.85 1.85 0 0 1 328.25 842.35H178.1Z" fill="#0a97ff"/>
<text transform="translate(177.8 863.4) scale(0.79 1)" font-size="9.3" fill="#8a8a8a" stroke="#8a8a8a" stroke-width="0.2" text-anchor="middle">0</text>
<text transform="translate(208.17 863.4) scale(0.79 1)" font-size="9.3" fill="#8a8a8a" stroke="#8a8a8a" stroke-width="0.2" text-anchor="middle">1000</text>
<text transform="translate(238.54 863.4) scale(0.79 1)" font-size="9.3" fill="#8a8a8a" stroke="#8a8a8a" stroke-width="0.2" text-anchor="middle">2000</text>
<text transform="translate(268.91 863.4) scale(0.79 1)" font-size="9.3" fill="#8a8a8a" stroke="#8a8a8a" stroke-width="0.2" text-anchor="middle">3000</text>
<text transform="translate(299.29 863.4) scale(0.79 1)" font-size="9.3" fill="#8a8a8a" stroke="#8a8a8a" stroke-width="0.2" text-anchor="middle">4000</text>
<text transform="translate(329.66 863.4) scale(0.79 1)" font-size="9.3" fill="#8a8a8a" stroke="#8a8a8a" stroke-width="0.2" text-anchor="middle">5000</text>
<text transform="translate(360.03 863.4) scale(0.79 1)" font-size="9.3" fill="#8a8a8a" stroke="#8a8a8a" stroke-width="0.2" text-anchor="middle">6000</text>
<text transform="translate(390.4 863.4) scale(0.79 1)" font-size="9.3" fill="#8a8a8a" stroke="#8a8a8a" stroke-width="0.2" text-anchor="middle">7000</text>
<path d="M471 704L474.3 700.7L477.6 704L474.3 707.3Z" fill="#cfcfcf" stroke="#a6a6a6" stroke-width="0.9"/>
<path d="M473.05 704L474.3 702.75L475.55 704L474.3 705.25Z" fill="#666"/>
<text x="481.8" y="708.05" font-size="10" fill="#3a3a3a" font-weight="bold">数据图表</text>
<text x="524.4" y="707.57" font-size="8.8" fill="#9c9c9c">Data Charting</text>
<text x="474.7" y="735.01" font-size="7.6" fill="#7c7c7c" font-weight="300">单位：万元</text>
<rect x="644.5" y="726.7" width="7.4" height="7.4" fill="#0a8cff"/>
<text x="657.9" y="733.47" font-size="7.5" fill="#828282" font-weight="300">类型一</text>
<rect x="687.7" y="726.7" width="7.4" height="7.4" fill="#0bd0ff"/>
<text x="701.1" y="733.47" font-size="7.5" fill="#828282" font-weight="300">类型二</text>
<rect x="502.6" y="743.5" width="1" height="107.5" fill="#efefef"/>
<rect x="533.04" y="743.5" width="1" height="107.5" fill="#efefef"/>
<rect x="563.49" y="743.5" width="1" height="107.5" fill="#efefef"/>
<rect x="593.93" y="743.5" width="1" height="107.5" fill="#efefef"/>
<rect x="624.37" y="743.5" width="1" height="107.5" fill="#efefef"/>
<rect x="654.81" y="743.5" width="1" height="107.5" fill="#efefef"/>
<rect x="685.26" y="743.5" width="1" height="107.5" fill="#efefef"/>
<rect x="715.7" y="743.5" width="1" height="107.5" fill="#efefef"/>
<text x="476.3" y="758.31" font-size="7.6" fill="#828282" font-weight="300">类型一</text>
<text x="476.3" y="780.51" font-size="7.6" fill="#828282" font-weight="300">类型二</text>
<text x="476.3" y="801.81" font-size="7.6" fill="#828282" font-weight="300">类型三</text>
<text x="476.3" y="823.41" font-size="7.6" fill="#828282" font-weight="300">类型四</text>
<text x="476.3" y="845.01" font-size="7.6" fill="#828282" font-weight="300">类型五</text>
<path d="M560.3 753.05H639.15A1.85 1.85 0 0 1 639.15 756.75H560.3Z" fill="#0bd0ff"/>
<path d="M503.1 753.05H560.45A1.85 1.85 0 0 1 560.45 756.75H503.1Z" fill="#0a8cff"/>
<path d="M579.8 775.25H682.35A1.85 1.85 0 0 1 682.35 778.95H579.8Z" fill="#0bd0ff"/>
<path d="M503.1 775.25H579.95A1.85 1.85 0 0 1 579.95 778.95H503.1Z" fill="#0a8cff"/>
<path d="M555 796.55H627.95A1.85 1.85 0 0 1 627.95 800.25H555Z" fill="#0bd0ff"/>
<path d="M503.1 796.55H555.15A1.85 1.85 0 0 1 555.15 800.25H503.1Z" fill="#0a8cff"/>
<path d="M563.8 818.15H686.05A1.85 1.85 0 0 1 686.05 821.85H563.8Z" fill="#0bd0ff"/>
<path d="M503.1 818.15H563.95A1.85 1.85 0 0 1 563.95 821.85H503.1Z" fill="#0a8cff"/>
<path d="M575.5 839.75H665.85A1.85 1.85 0 0 1 665.85 843.45H575.5Z" fill="#0bd0ff"/>
<path d="M503.1 839.75H575.65A1.85 1.85 0 0 1 575.65 843.45H503.1Z" fill="#0a8cff"/>
<text transform="translate(502.8 864.2) scale(0.79 1)" font-size="9.3" fill="#8a8a8a" stroke="#8a8a8a" stroke-width="0.2" text-anchor="middle">0</text>
<text transform="translate(533.24 864.2) scale(0.79 1)" font-size="9.3" fill="#8a8a8a" stroke="#8a8a8a" stroke-width="0.2" text-anchor="middle">1000</text>
<text transform="translate(563.69 864.2) scale(0.79 1)" font-size="9.3" fill="#8a8a8a" stroke="#8a8a8a" stroke-width="0.2" text-anchor="middle">2000</text>
<text transform="translate(594.13 864.2) scale(0.79 1)" font-size="9.3" fill="#8a8a8a" stroke="#8a8a8a" stroke-width="0.2" text-anchor="middle">3000</text>
<text transform="translate(624.57 864.2) scale(0.79 1)" font-size="9.3" fill="#8a8a8a" stroke="#8a8a8a" stroke-width="0.2" text-anchor="middle">4000</text>
<text transform="translate(655.01 864.2) scale(0.79 1)" font-size="9.3" fill="#8a8a8a" stroke="#8a8a8a" stroke-width="0.2" text-anchor="middle">5000</text>
<text transform="translate(685.46 864.2) scale(0.79 1)" font-size="9.3" fill="#8a8a8a" stroke="#8a8a8a" stroke-width="0.2" text-anchor="middle">6000</text>
<text transform="translate(715.9 864.2) scale(0.79 1)" font-size="9.3" fill="#8a8a8a" stroke="#8a8a8a" stroke-width="0.2" text-anchor="middle">7000</text>
<path d="M793 704L796.3 700.7L799.6 704L796.3 707.3Z" fill="#cfcfcf" stroke="#a6a6a6" stroke-width="0.9"/>
<path d="M795.05 704L796.3 702.75L797.55 704L796.3 705.25Z" fill="#666"/>
<text x="803.8" y="708.05" font-size="10" fill="#3a3a3a" font-weight="bold">数据图表</text>
<text x="846.4" y="707.57" font-size="8.8" fill="#9c9c9c">Data Charting</text>
<text x="797.3" y="735.41" font-size="7.6" fill="#7c7c7c" font-weight="300">单位：<tspan font-size="8.6">%</tspan></text>
<rect x="929.5" y="727.3" width="7.4" height="7.4" fill="#0aaeff"/>
<text x="943.2" y="734.07" font-size="7.5" fill="#828282" font-weight="300">数据一</text>
<rect x="973" y="727.3" width="7.4" height="7.4" fill="#0ac6d6"/>
<text x="986.4" y="734.07" font-size="7.5" fill="#828282" font-weight="300">数据二</text>
<rect x="1015.7" y="727.3" width="7.4" height="7.4" fill="#2af6cc"/>
<text x="1029.1" y="734.07" font-size="7.5" fill="#828282" font-weight="300">数据三</text>
<rect x="827.2" y="743.5" width="1" height="107.5" fill="#efefef"/>
<rect x="868.68" y="743.5" width="1" height="107.5" fill="#efefef"/>
<rect x="910.16" y="743.5" width="1" height="107.5" fill="#efefef"/>
<rect x="951.64" y="743.5" width="1" height="107.5" fill="#efefef"/>
<rect x="993.12" y="743.5" width="1" height="107.5" fill="#efefef"/>
<rect x="1034.6" y="743.5" width="1" height="107.5" fill="#efefef"/>
<text x="798.6" y="758.41" font-size="7.6" fill="#828282" font-weight="300">类型一</text>
<text x="798.6" y="780.41" font-size="7.6" fill="#828282" font-weight="300">类型二</text>
<text x="798.6" y="802.01" font-size="7.6" fill="#828282" font-weight="300">类型三</text>
<text x="798.6" y="823.81" font-size="7.6" fill="#828282" font-weight="300">类型四</text>
<text x="798.6" y="845.61" font-size="7.6" fill="#828282" font-weight="300">类型五</text>
<g clip-path="url(#c9_0)">
<rect x="827.7" y="751.7" width="207.4" height="6" fill="#0aaeff"/>
<rect x="827.7" y="751.7" width="146.6" height="6" fill="#0ac6d6"/>
<rect x="827.7" y="751.7" width="64" height="6" fill="#2af6cc"/>
</g>
<g clip-path="url(#c9_1)">
<rect x="827.7" y="774.1" width="207.4" height="6" fill="#0aaeff"/>
<rect x="827.7" y="774.1" width="148.8" height="6" fill="#0ac6d6"/>
<rect x="827.7" y="774.1" width="66.1" height="6" fill="#2af6cc"/>
</g>
<g clip-path="url(#c9_2)">
<rect x="827.7" y="795.7" width="207.4" height="6" fill="#0aaeff"/>
<rect x="827.7" y="795.7" width="140" height="6" fill="#0ac6d6"/>
<rect x="827.7" y="795.7" width="82.6" height="6" fill="#2af6cc"/>
</g>
<g clip-path="url(#c9_3)">
<rect x="827.7" y="816.7" width="207.4" height="6" fill="#0aaeff"/>
<rect x="827.7" y="816.7" width="153.3" height="6" fill="#0ac6d6"/>
<rect x="827.7" y="816.7" width="73.3" height="6" fill="#2af6cc"/>
</g>
<g clip-path="url(#c9_4)">
<rect x="827.7" y="839.7" width="207.4" height="6" fill="#0aaeff"/>
<rect x="827.7" y="839.7" width="143.2" height="6" fill="#0ac6d6"/>
<rect x="827.7" y="839.7" width="68.5" height="6" fill="#2af6cc"/>
</g>
<text transform="translate(827.4 865.4) scale(0.79 1)" font-size="9.3" fill="#8a8a8a" stroke="#8a8a8a" stroke-width="0.2" text-anchor="middle">0</text>
<text transform="translate(868.88 865.4) scale(0.79 1)" font-size="9.3" fill="#8a8a8a" stroke="#8a8a8a" stroke-width="0.2" text-anchor="middle">20%</text>
<text transform="translate(910.36 865.4) scale(0.79 1)" font-size="9.3" fill="#8a8a8a" stroke="#8a8a8a" stroke-width="0.2" text-anchor="middle">40%</text>
<text transform="translate(951.84 865.4) scale(0.79 1)" font-size="9.3" fill="#8a8a8a" stroke="#8a8a8a" stroke-width="0.2" text-anchor="middle">60%</text>
<text transform="translate(993.32 865.4) scale(0.79 1)" font-size="9.3" fill="#8a8a8a" stroke="#8a8a8a" stroke-width="0.2" text-anchor="middle">80%</text>
<text transform="translate(1034.8 865.4) scale(0.79 1)" font-size="9.3" fill="#8a8a8a" stroke="#8a8a8a" stroke-width="0.2" text-anchor="middle">100%</text>
<path d="M149 927.8L152.3 924.5L155.6 927.8L152.3 931.1Z" fill="#cfcfcf" stroke="#a6a6a6" stroke-width="0.9"/>
<path d="M151.05 927.8L152.3 926.55L153.55 927.8L152.3 929.05Z" fill="#666"/>
<text x="159.8" y="931.85" font-size="10" fill="#3a3a3a" font-weight="bold">数据图表</text>
<text x="202.4" y="931.37" font-size="8.8" fill="#9c9c9c">Data Charting</text>
<text x="152.9" y="958.41" font-size="7.6" fill="#7c7c7c" font-weight="300">单位：万元</text>
<rect x="323.5" y="950.5" width="7.4" height="7.4" fill="#0a9bff"/>
<text x="336.9" y="957.27" font-size="7.5" fill="#828282" font-weight="300">类型一</text>
<rect x="366.7" y="950.5" width="7.4" height="7.4" fill="#ff8c1a"/>
<text x="380.6" y="957.27" font-size="7.5" fill="#828282" font-weight="300">类型二</text>
<rect x="180.8" y="967" width="1" height="106.7" fill="#efefef"/>
<rect x="211.13" y="967" width="1" height="106.7" fill="#efefef"/>
<rect x="241.46" y="967" width="1" height="106.7" fill="#efefef"/>
<rect x="271.79" y="967" width="1" height="106.7" fill="#efefef"/>
<rect x="302.11" y="967" width="1" height="106.7" fill="#efefef"/>
<rect x="332.44" y="967" width="1" height="106.7" fill="#efefef"/>
<rect x="362.77" y="967" width="1" height="106.7" fill="#efefef"/>
<rect x="393.1" y="967" width="1" height="106.7" fill="#efefef"/>
<text x="154" y="982.31" font-size="7.6" fill="#828282" font-weight="300">类型一</text>
<text x="154" y="1004.01" font-size="7.6" fill="#828282" font-weight="300">类型二</text>
<text x="154" y="1025.91" font-size="7.6" fill="#828282" font-weight="300">类型三</text>
<text x="154" y="1047.61" font-size="7.6" fill="#828282" font-weight="300">类型四</text>
<text x="154" y="1069.31" font-size="7.6" fill="#828282" font-weight="300">类型五</text>
<rect x="181.3" y="972.45" width="138.7" height="4.7" fill="#0a9bff" rx="2.35"/>
<rect x="181.3" y="978.15" width="95.5" height="4.7" fill="#ff8c1a" rx="2.35"/>
<rect x="181.3" y="994.05" width="158.7" height="4.7" fill="#0a9bff" rx="2.35"/>
<rect x="181.3" y="999.75" width="122.7" height="4.7" fill="#ff8c1a" rx="2.35"/>
<rect x="181.3" y="1016.45" width="155.5" height="4.7" fill="#0a9bff" rx="2.35"/>
<rect x="181.3" y="1022.15" width="100.8" height="4.7" fill="#ff8c1a" rx="2.35"/>
<rect x="181.3" y="1038.05" width="188.8" height="4.7" fill="#0a9bff" rx="2.35"/>
<rect x="181.3" y="1043.95" width="143.2" height="4.7" fill="#ff8c1a" rx="2.35"/>
<rect x="181.3" y="1059.65" width="155.5" height="4.7" fill="#0a9bff" rx="2.35"/>
<rect x="181.3" y="1065.55" width="130.2" height="4.7" fill="#ff8c1a" rx="2.35"/>
<text transform="translate(181 1087.7) scale(0.79 1)" font-size="9.3" fill="#8a8a8a" stroke="#8a8a8a" stroke-width="0.2" text-anchor="middle">0</text>
<text transform="translate(211.33 1087.7) scale(0.79 1)" font-size="9.3" fill="#8a8a8a" stroke="#8a8a8a" stroke-width="0.2" text-anchor="middle">1000</text>
<text transform="translate(241.66 1087.7) scale(0.79 1)" font-size="9.3" fill="#8a8a8a" stroke="#8a8a8a" stroke-width="0.2" text-anchor="middle">2000</text>
<text transform="translate(271.99 1087.7) scale(0.79 1)" font-size="9.3" fill="#8a8a8a" stroke="#8a8a8a" stroke-width="0.2" text-anchor="middle">3000</text>
<text transform="translate(302.31 1087.7) scale(0.79 1)" font-size="9.3" fill="#8a8a8a" stroke="#8a8a8a" stroke-width="0.2" text-anchor="middle">4000</text>
<text transform="translate(332.64 1087.7) scale(0.79 1)" font-size="9.3" fill="#8a8a8a" stroke="#8a8a8a" stroke-width="0.2" text-anchor="middle">5000</text>
<text transform="translate(362.97 1087.7) scale(0.79 1)" font-size="9.3" fill="#8a8a8a" stroke="#8a8a8a" stroke-width="0.2" text-anchor="middle">6000</text>
<text transform="translate(393.3 1087.7) scale(0.79 1)" font-size="9.3" fill="#8a8a8a" stroke="#8a8a8a" stroke-width="0.2" text-anchor="middle">7000</text>
<path d="M471 927.8L474.3 924.5L477.6 927.8L474.3 931.1Z" fill="#cfcfcf" stroke="#a6a6a6" stroke-width="0.9"/>
<path d="M473.05 927.8L474.3 926.55L475.55 927.8L474.3 929.05Z" fill="#666"/>
<text x="481.8" y="931.85" font-size="10" fill="#3a3a3a" font-weight="bold">数据图表</text>
<text x="524.4" y="931.37" font-size="8.8" fill="#9c9c9c">Data Charting</text>
<text x="474.7" y="957.21" font-size="7.6" fill="#7c7c7c" font-weight="300">单位：万元</text>
<rect x="644.5" y="949.1" width="7.4" height="7.4" fill="#0a84ff"/>
<text x="657.9" y="955.87" font-size="7.5" fill="#828282" font-weight="300">类型一</text>
<rect x="687.7" y="949.1" width="7.4" height="7.4" fill="#0bd2ff"/>
<text x="701.1" y="955.87" font-size="7.5" fill="#828282" font-weight="300">类型二</text>
<rect x="503.4" y="966" width="1" height="106.6" fill="#efefef"/>
<rect x="533.8" y="966" width="1" height="106.6" fill="#efefef"/>
<rect x="564.2" y="966" width="1" height="106.6" fill="#efefef"/>
<rect x="594.6" y="966" width="1" height="106.6" fill="#efefef"/>
<rect x="625" y="966" width="1" height="106.6" fill="#efefef"/>
<rect x="655.4" y="966" width="1" height="106.6" fill="#efefef"/>
<rect x="685.8" y="966" width="1" height="106.6" fill="#efefef"/>
<rect x="716.2" y="966" width="1" height="106.6" fill="#efefef"/>
<text x="476.3" y="980.21" font-size="7.6" fill="#828282" font-weight="300">类型一</text>
<text x="476.3" y="1002.01" font-size="7.6" fill="#828282" font-weight="300">类型二</text>
<text x="476.3" y="1023.81" font-size="7.6" fill="#828282" font-weight="300">类型三</text>
<text x="476.3" y="1045.61" font-size="7.6" fill="#828282" font-weight="300">类型四</text>
<text x="476.3" y="1067.31" font-size="7.6" fill="#828282" font-weight="300">类型五</text>
<path d="M503.9 973H653.9A1.8 1.8 0 0 1 653.9 976.6H503.9Z" fill="#0a84ff"/>
<path d="M503.9 978H605.9A1.8 1.8 0 0 1 605.9 981.6H503.9Z" fill="#0bd2ff"/>
<path d="M503.9 994.6H675.2A1.8 1.8 0 0 1 675.2 998.2H503.9Z" fill="#0a84ff"/>
<path d="M503.9 999.6H635.2A1.8 1.8 0 0 1 635.2 1003.2H503.9Z" fill="#0bd2ff"/>
<path d="M503.9 1016.4H632A1.8 1.8 0 0 1 632 1020H503.9Z" fill="#0a84ff"/>
<path d="M503.9 1021.4H586.7A1.8 1.8 0 0 1 586.7 1025H503.9Z" fill="#0bd2ff"/>
<path d="M503.9 1038H708A1.8 1.8 0 0 1 708 1041.6H503.9Z" fill="#0a84ff"/>
<path d="M503.9 1043H608.8A1.8 1.8 0 0 1 608.8 1046.6H503.9Z" fill="#0bd2ff"/>
<path d="M503.9 1059.7H653.9A1.8 1.8 0 0 1 653.9 1063.3H503.9Z" fill="#0a84ff"/>
<path d="M503.9 1064.7H628A1.8 1.8 0 0 1 628 1068.3H503.9Z" fill="#0bd2ff"/>
<text transform="translate(503.6 1087) scale(0.79 1)" font-size="9.3" fill="#8a8a8a" stroke="#8a8a8a" stroke-width="0.2" text-anchor="middle">0</text>
<text transform="translate(534 1087) scale(0.79 1)" font-size="9.3" fill="#8a8a8a" stroke="#8a8a8a" stroke-width="0.2" text-anchor="middle">1000</text>
<text transform="translate(564.4 1087) scale(0.79 1)" font-size="9.3" fill="#8a8a8a" stroke="#8a8a8a" stroke-width="0.2" text-anchor="middle">2000</text>
<text transform="translate(594.8 1087) scale(0.79 1)" font-size="9.3" fill="#8a8a8a" stroke="#8a8a8a" stroke-width="0.2" text-anchor="middle">3000</text>
<text transform="translate(625.2 1087) scale(0.79 1)" font-size="9.3" fill="#8a8a8a" stroke="#8a8a8a" stroke-width="0.2" text-anchor="middle">4000</text>
<text transform="translate(655.6 1087) scale(0.79 1)" font-size="9.3" fill="#8a8a8a" stroke="#8a8a8a" stroke-width="0.2" text-anchor="middle">5000</text>
<text transform="translate(686 1087) scale(0.79 1)" font-size="9.3" fill="#8a8a8a" stroke="#8a8a8a" stroke-width="0.2" text-anchor="middle">6000</text>
<text transform="translate(716.4 1087) scale(0.79 1)" font-size="9.3" fill="#8a8a8a" stroke="#8a8a8a" stroke-width="0.2" text-anchor="middle">7000</text>
<path d="M793 927.8L796.3 924.5L799.6 927.8L796.3 931.1Z" fill="#cfcfcf" stroke="#a6a6a6" stroke-width="0.9"/>
<path d="M795.05 927.8L796.3 926.55L797.55 927.8L796.3 929.05Z" fill="#666"/>
<text x="803.8" y="931.85" font-size="10" fill="#3a3a3a" font-weight="bold">数据图表</text>
<text x="846.4" y="931.37" font-size="8.8" fill="#9c9c9c">Data Charting</text>
<text x="797.3" y="958.41" font-size="7.6" fill="#7c7c7c" font-weight="300">单位：万元</text>
<rect x="968.2" y="950.5" width="7.4" height="7.4" fill="url(#g12b)"/>
<text x="981.6" y="957.27" font-size="7.5" fill="#828282" font-weight="300">类型一</text>
<rect x="1011.7" y="950.5" width="7.4" height="7.4" fill="url(#g12o)"/>
<text x="1025.1" y="957.27" font-size="7.5" fill="#828282" font-weight="300">类型二</text>
<rect x="825.3" y="967" width="1" height="106.7" fill="#efefef"/>
<rect x="855.63" y="967" width="1" height="106.7" fill="#efefef"/>
<rect x="885.96" y="967" width="1" height="106.7" fill="#efefef"/>
<rect x="916.29" y="967" width="1" height="106.7" fill="#efefef"/>
<rect x="946.61" y="967" width="1" height="106.7" fill="#efefef"/>
<rect x="976.94" y="967" width="1" height="106.7" fill="#efefef"/>
<rect x="1007.27" y="967" width="1" height="106.7" fill="#efefef"/>
<rect x="1037.6" y="967" width="1" height="106.7" fill="#efefef"/>
<text x="798.6" y="981.41" font-size="7.6" fill="#828282" font-weight="300">类型一</text>
<text x="798.6" y="1003.11" font-size="7.6" fill="#828282" font-weight="300">类型二</text>
<text x="798.6" y="1025.01" font-size="7.6" fill="#828282" font-weight="300">类型三</text>
<text x="798.6" y="1046.71" font-size="7.6" fill="#828282" font-weight="300">类型四</text>
<text x="798.6" y="1068.41" font-size="7.6" fill="#828282" font-weight="300">类型五</text>
<rect x="825.8" y="972.45" width="139.2" height="3.5" fill="url(#g12b)"/>
<rect x="825.8" y="977.25" width="95.7" height="3.5" fill="url(#g12o)"/>
<rect x="825.8" y="994.05" width="158.9" height="3.5" fill="url(#g12b)"/>
<rect x="825.8" y="998.95" width="122.9" height="3.5" fill="url(#g12o)"/>
<rect x="825.8" y="1015.65" width="155.7" height="3.5" fill="url(#g12b)"/>
<rect x="825.8" y="1020.65" width="101.1" height="3.5" fill="url(#g12o)"/>
<rect x="825.8" y="1037.25" width="189.3" height="3.5" fill="url(#g12b)"/>
<rect x="825.8" y="1042.25" width="143.5" height="3.5" fill="url(#g12o)"/>
<rect x="825.8" y="1059.15" width="155.7" height="3.5" fill="url(#g12b)"/>
<rect x="825.8" y="1064.15" width="130.4" height="3.5" fill="url(#g12o)"/>
<text transform="translate(825.5 1088.4) scale(0.79 1)" font-size="9.3" fill="#8a8a8a" stroke="#8a8a8a" stroke-width="0.2" text-anchor="middle">0</text>
<text transform="translate(855.83 1088.4) scale(0.79 1)" font-size="9.3" fill="#8a8a8a" stroke="#8a8a8a" stroke-width="0.2" text-anchor="middle">1000</text>
<text transform="translate(886.16 1088.4) scale(0.79 1)" font-size="9.3" fill="#8a8a8a" stroke="#8a8a8a" stroke-width="0.2" text-anchor="middle">2000</text>
<text transform="translate(916.49 1088.4) scale(0.79 1)" font-size="9.3" fill="#8a8a8a" stroke="#8a8a8a" stroke-width="0.2" text-anchor="middle">3000</text>
<text transform="translate(946.81 1088.4) scale(0.79 1)" font-size="9.3" fill="#8a8a8a" stroke="#8a8a8a" stroke-width="0.2" text-anchor="middle">4000</text>
<text transform="translate(977.14 1088.4) scale(0.79 1)" font-size="9.3" fill="#8a8a8a" stroke="#8a8a8a" stroke-width="0.2" text-anchor="middle">5000</text>
<text transform="translate(1007.47 1088.4) scale(0.79 1)" font-size="9.3" fill="#8a8a8a" stroke="#8a8a8a" stroke-width="0.2" text-anchor="middle">6000</text>
<text transform="translate(1037.8 1088.4) scale(0.79 1)" font-size="9.3" fill="#8a8a8a" stroke="#8a8a8a" stroke-width="0.2" text-anchor="middle">7000</text>
<path d="M149 1151.3L152.3 1148L155.6 1151.3L152.3 1154.6Z" fill="#cfcfcf" stroke="#a6a6a6" stroke-width="0.9"/>
<path d="M151.05 1151.3L152.3 1150.05L153.55 1151.3L152.3 1152.55Z" fill="#666"/>
<text x="159.8" y="1155.35" font-size="10" fill="#3a3a3a" font-weight="bold">数据图表</text>
<text x="202.4" y="1154.87" font-size="8.8" fill="#9c9c9c">Data Charting</text>
<text x="149.7" y="1181.81" font-size="7.6" fill="#7c7c7c" font-weight="300">单位：万元</text>
<rect x="319.2" y="1173.6" width="7.4" height="7.4" fill="#4c87f7"/>
<text x="332.6" y="1180.38" font-size="7.5" fill="#828282" font-weight="300">类型一</text>
<rect x="362.7" y="1173.6" width="7.4" height="7.4" fill="#f5b518"/>
<text x="376.1" y="1180.38" font-size="7.5" fill="#828282" font-weight="300">类型二</text>
<rect x="178.1" y="1199.2" width="213.4" height="5" fill="#f2f2f2"/>
<rect x="178.1" y="1221.1" width="213.4" height="5" fill="#f2f2f2"/>
<rect x="178.1" y="1242.7" width="213.4" height="5" fill="#f2f2f2"/>
<rect x="178.1" y="1264.6" width="213.4" height="5" fill="#f2f2f2"/>
<rect x="178.1" y="1286.2" width="213.4" height="5" fill="#f2f2f2"/>
<rect x="177.6" y="1190" width="1" height="107.2" fill="#ececec"/>
<rect x="204.28" y="1190" width="1" height="107.2" fill="#ececec"/>
<rect x="230.95" y="1190" width="1" height="107.2" fill="#ececec"/>
<rect x="257.62" y="1190" width="1" height="107.2" fill="#ececec"/>
<rect x="284.3" y="1190" width="1" height="107.2" fill="#ececec"/>
<rect x="310.98" y="1190" width="1" height="107.2" fill="#ececec"/>
<rect x="337.65" y="1190" width="1" height="107.2" fill="#ececec"/>
<rect x="364.32" y="1190" width="1" height="107.2" fill="#ececec"/>
<rect x="391" y="1190" width="1" height="107.2" fill="#ececec"/>
<text x="151.2" y="1205.01" font-size="7.6" fill="#828282" font-weight="300">类型一</text>
<text x="151.2" y="1226.91" font-size="7.6" fill="#828282" font-weight="300">类型二</text>
<text x="151.2" y="1248.51" font-size="7.6" fill="#828282" font-weight="300">类型三</text>
<text x="151.2" y="1270.41" font-size="7.6" fill="#828282" font-weight="300">类型四</text>
<text x="151.2" y="1292.01" font-size="7.6" fill="#828282" font-weight="300">类型五</text>
<path d="M283.9 1199.2H346.8A2.5 2.5 0 0 1 346.8 1204.2H283.9Z" fill="#f5b518"/>
<path d="M284.5 1199.2H230.8A2.5 2.5 0 0 0 230.8 1204.2H284.5Z" fill="#4c87f7"/>
<path d="M283.9 1221.1H363.1A2.5 2.5 0 0 1 363.1 1226.1H283.9Z" fill="#f5b518"/>
<path d="M284.5 1221.1H207.8A2.5 2.5 0 0 0 207.8 1226.1H284.5Z" fill="#4c87f7"/>
<path d="M283.9 1242.7H342.6A2.5 2.5 0 0 1 342.6 1247.7H283.9Z" fill="#f5b518"/>
<path d="M284.5 1242.7H237.2A2.5 2.5 0 0 0 237.2 1247.7H284.5Z" fill="#4c87f7"/>
<path d="M283.9 1264.6H378.3A2.5 2.5 0 0 1 378.3 1269.6H283.9Z" fill="#f5b518"/>
<path d="M284.5 1264.6H224.1A2.5 2.5 0 0 0 224.1 1269.6H284.5Z" fill="#4c87f7"/>
<path d="M283.9 1286.2H353A2.5 2.5 0 0 1 353 1291.2H283.9Z" fill="#f5b518"/>
<path d="M284.5 1286.2H212.4A2.5 2.5 0 0 0 212.4 1291.2H284.5Z" fill="#4c87f7"/>
<text transform="translate(175.7 1311.47) scale(0.81 1)" font-size="9.5" fill="#8a8a8a" stroke="#8a8a8a" stroke-width="0.2" text-anchor="middle">8000</text>
<text transform="translate(202.38 1311.47) scale(0.81 1)" font-size="9.5" fill="#8a8a8a" stroke="#8a8a8a" stroke-width="0.2" text-anchor="middle">6000</text>
<text transform="translate(229.05 1311.47) scale(0.81 1)" font-size="9.5" fill="#8a8a8a" stroke="#8a8a8a" stroke-width="0.2" text-anchor="middle">4000</text>
<text transform="translate(255.72 1311.47) scale(0.81 1)" font-size="9.5" fill="#8a8a8a" stroke="#8a8a8a" stroke-width="0.2" text-anchor="middle">2000</text>
<text transform="translate(282.4 1311.47) scale(0.81 1)" font-size="9.5" fill="#8a8a8a" stroke="#8a8a8a" stroke-width="0.2" text-anchor="middle">0</text>
<text transform="translate(309.08 1311.47) scale(0.81 1)" font-size="9.5" fill="#8a8a8a" stroke="#8a8a8a" stroke-width="0.2" text-anchor="middle">2000</text>
<text transform="translate(335.75 1311.47) scale(0.81 1)" font-size="9.5" fill="#8a8a8a" stroke="#8a8a8a" stroke-width="0.2" text-anchor="middle">4000</text>
<text transform="translate(362.43 1311.47) scale(0.81 1)" font-size="9.5" fill="#8a8a8a" stroke="#8a8a8a" stroke-width="0.2" text-anchor="middle">6000</text>
<text transform="translate(389.1 1311.47) scale(0.81 1)" font-size="9.5" fill="#8a8a8a" stroke="#8a8a8a" stroke-width="0.2" text-anchor="middle">8000</text>
<path d="M473.7 1155.6L477 1152.3L480.3 1155.6L477 1158.9Z" fill="#cfcfcf" stroke="#a6a6a6" stroke-width="0.9"/>
<path d="M475.75 1155.6L477 1154.35L478.25 1155.6L477 1156.85Z" fill="#666"/>
<text x="484.5" y="1159.65" font-size="10" fill="#3a3a3a" font-weight="bold">数据图表</text>
<text x="527.1" y="1159.17" font-size="8.8" fill="#9c9c9c">Data Charting</text>
<text x="477.3" y="1186.31" font-size="7.6" fill="#7c7c7c" font-weight="300">单位：万元</text>
<rect x="646.9" y="1177.7" width="7.4" height="7.4" fill="#24c3f0"/>
<text x="660.5" y="1184.48" font-size="7.5" fill="#828282" font-weight="300">类型一</text>
<rect x="690.3" y="1177.7" width="7.4" height="7.4" fill="#6f6ff5"/>
<text x="703.8" y="1184.48" font-size="7.5" fill="#828282" font-weight="300">类型二</text>
<rect x="505.8" y="1203.8" width="213.3" height="5" fill="#f2f2f2"/>
<rect x="505.8" y="1225.4" width="213.3" height="5" fill="#f2f2f2"/>
<rect x="505.8" y="1247.2" width="213.3" height="5" fill="#f2f2f2"/>
<rect x="505.8" y="1268.8" width="213.3" height="5" fill="#f2f2f2"/>
<rect x="505.8" y="1290.4" width="213.3" height="5" fill="#f2f2f2"/>
<rect x="505.3" y="1194.5" width="1" height="107.5" fill="#ececec"/>
<rect x="531.96" y="1194.5" width="1" height="107.5" fill="#ececec"/>
<rect x="558.62" y="1194.5" width="1" height="107.5" fill="#ececec"/>
<rect x="585.29" y="1194.5" width="1" height="107.5" fill="#ececec"/>
<rect x="611.95" y="1194.5" width="1" height="107.5" fill="#ececec"/>
<rect x="638.61" y="1194.5" width="1" height="107.5" fill="#ececec"/>
<rect x="665.28" y="1194.5" width="1" height="107.5" fill="#ececec"/>
<rect x="691.94" y="1194.5" width="1" height="107.5" fill="#ececec"/>
<rect x="718.6" y="1194.5" width="1" height="107.5" fill="#ececec"/>
<text x="479" y="1209.61" font-size="7.6" fill="#828282" font-weight="300">类型一</text>
<text x="479" y="1231.21" font-size="7.6" fill="#828282" font-weight="300">类型二</text>
<text x="479" y="1253.01" font-size="7.6" fill="#828282" font-weight="300">类型三</text>
<text x="479" y="1274.61" font-size="7.6" fill="#828282" font-weight="300">类型四</text>
<text x="479" y="1296.21" font-size="7.6" fill="#828282" font-weight="300">类型五</text>
<rect x="611.6" y="1203.9" width="63.5" height="4.8" fill="#6f6ff5"/>
<rect x="555.9" y="1203.9" width="56.3" height="4.8" fill="url(#g14)"/>
<rect x="611.6" y="1225.5" width="79.5" height="4.8" fill="#6f6ff5"/>
<rect x="533" y="1225.5" width="79.2" height="4.8" fill="url(#g14)"/>
<rect x="611.6" y="1247.3" width="59.3" height="4.8" fill="#6f6ff5"/>
<rect x="562.3" y="1247.3" width="49.9" height="4.8" fill="url(#g14)"/>
<rect x="611.6" y="1268.9" width="95.3" height="4.8" fill="#6f6ff5"/>
<rect x="549.3" y="1268.9" width="62.9" height="4.8" fill="url(#g14)"/>
<rect x="611.6" y="1290.5" width="69.9" height="4.8" fill="#6f6ff5"/>
<rect x="537.5" y="1290.5" width="74.7" height="4.8" fill="url(#g14)"/>
<text transform="translate(503.4 1315.97) scale(0.81 1)" font-size="9.5" fill="#8a8a8a" stroke="#8a8a8a" stroke-width="0.2" text-anchor="middle">8000</text>
<text transform="translate(530.06 1315.97) scale(0.81 1)" font-size="9.5" fill="#8a8a8a" stroke="#8a8a8a" stroke-width="0.2" text-anchor="middle">6000</text>
<text transform="translate(556.73 1315.97) scale(0.81 1)" font-size="9.5" fill="#8a8a8a" stroke="#8a8a8a" stroke-width="0.2" text-anchor="middle">4000</text>
<text transform="translate(583.39 1315.97) scale(0.81 1)" font-size="9.5" fill="#8a8a8a" stroke="#8a8a8a" stroke-width="0.2" text-anchor="middle">2000</text>
<text transform="translate(610.05 1315.97) scale(0.81 1)" font-size="9.5" fill="#8a8a8a" stroke="#8a8a8a" stroke-width="0.2" text-anchor="middle">0</text>
<text transform="translate(636.71 1315.97) scale(0.81 1)" font-size="9.5" fill="#8a8a8a" stroke="#8a8a8a" stroke-width="0.2" text-anchor="middle">2000</text>
<text transform="translate(663.38 1315.97) scale(0.81 1)" font-size="9.5" fill="#8a8a8a" stroke="#8a8a8a" stroke-width="0.2" text-anchor="middle">4000</text>
<text transform="translate(690.04 1315.97) scale(0.81 1)" font-size="9.5" fill="#8a8a8a" stroke="#8a8a8a" stroke-width="0.2" text-anchor="middle">6000</text>
<text transform="translate(716.7 1315.97) scale(0.81 1)" font-size="9.5" fill="#8a8a8a" stroke="#8a8a8a" stroke-width="0.2" text-anchor="middle">8000</text>
<path d="M793 1151.3L796.3 1148L799.6 1151.3L796.3 1154.6Z" fill="#cfcfcf" stroke="#a6a6a6" stroke-width="0.9"/>
<path d="M795.05 1151.3L796.3 1150.05L797.55 1151.3L796.3 1152.55Z" fill="#666"/>
<text x="803.8" y="1155.35" font-size="10" fill="#3a3a3a" font-weight="bold">数据图表</text>
<text x="846.4" y="1154.87" font-size="8.8" fill="#9c9c9c">Data Charting</text>
<text x="792.3" y="1182.21" font-size="7.6" fill="#7c7c7c" font-weight="300">单位：万元</text>
<rect x="1010.3" y="1174.3" width="7.4" height="7.4" fill="#30dc9c"/>
<text x="1024.3" y="1181.08" font-size="7.5" fill="#828282" font-weight="300">类型一</text>
<rect x="821" y="1190.8" width="1" height="106.4" fill="#efefef"/>
<rect x="851.33" y="1190.8" width="1" height="106.4" fill="#efefef"/>
<rect x="881.66" y="1190.8" width="1" height="106.4" fill="#efefef"/>
<rect x="911.99" y="1190.8" width="1" height="106.4" fill="#efefef"/>
<rect x="942.31" y="1190.8" width="1" height="106.4" fill="#efefef"/>
<rect x="972.64" y="1190.8" width="1" height="106.4" fill="#efefef"/>
<rect x="1002.97" y="1190.8" width="1" height="106.4" fill="#efefef"/>
<rect x="1033.3" y="1190.8" width="1" height="106.4" fill="#efefef"/>
<rect x="821.5" y="1193.73" width="205.9" height="2" fill="#25e09a"/>
<rect x="821.5" y="1198" width="179.23" height="2" fill="#25e09a"/>
<rect x="821.5" y="1202.53" width="141.37" height="2" fill="#25e09a"/>
<rect x="821.5" y="1206.8" width="169.37" height="2" fill="#25e09a"/>
<rect x="821.5" y="1210.53" width="160.03" height="2" fill="#25e09a"/>
<rect x="821.5" y="1214.8" width="139.5" height="2" fill="#25e09a"/>
<rect x="821.5" y="1219.07" width="109.63" height="2" fill="#25e09a"/>
<rect x="821.5" y="1223.33" width="132.03" height="2" fill="#25e09a"/>
<rect x="821.5" y="1227.87" width="177.9" height="2" fill="#25e09a"/>
<rect x="821.5" y="1232.13" width="154.97" height="2" fill="#25e09a"/>
<rect x="821.5" y="1235.87" width="122.17" height="2" fill="#25e09a"/>
<rect x="821.5" y="1240.13" width="146.17" height="2" fill="#25e09a"/>
<rect x="821.5" y="1244.4" width="194.17" height="2" fill="#25e09a"/>
<rect x="821.5" y="1248.93" width="168.57" height="2" fill="#25e09a"/>
<rect x="821.5" y="1253.2" width="133.37" height="2" fill="#25e09a"/>
<rect x="821.5" y="1257.47" width="160.03" height="2" fill="#25e09a"/>
<rect x="821.5" y="1261.47" width="103.5" height="2" fill="#25e09a"/>
<rect x="821.5" y="1265.73" width="101.63" height="2" fill="#25e09a"/>
<rect x="821.5" y="1270" width="98.43" height="2" fill="#25e09a"/>
<rect x="821.5" y="1274.27" width="133.1" height="2" fill="#25e09a"/>
<rect x="821.5" y="1278.53" width="124.57" height="2" fill="#25e09a"/>
<rect x="821.5" y="1283.07" width="91.23" height="2" fill="#25e09a"/>
<rect x="821.5" y="1287.33" width="134.43" height="2" fill="#25e09a"/>
<rect x="821.5" y="1291.07" width="179.23" height="2" fill="#25e09a"/>
<rect x="821.5" y="1295.6" width="125.9" height="2" fill="#25e09a"/>
<text x="793.9" y="1205.01" font-size="7.6" fill="#828282" font-weight="300">类型一</text>
<text x="793.9" y="1227.01" font-size="7.6" fill="#828282" font-weight="300">类型二</text>
<text x="793.9" y="1248.91" font-size="7.6" fill="#828282" font-weight="300">类型三</text>
<text x="793.9" y="1270.61" font-size="7.6" fill="#828282" font-weight="300">类型四</text>
<text x="793.9" y="1292.41" font-size="7.6" fill="#828282" font-weight="300">类型五</text>
<text transform="translate(821.2 1312.2) scale(0.79 1)" font-size="9.3" fill="#8a8a8a" stroke="#8a8a8a" stroke-width="0.2" text-anchor="middle">0</text>
<text transform="translate(851.53 1312.2) scale(0.79 1)" font-size="9.3" fill="#8a8a8a" stroke="#8a8a8a" stroke-width="0.2" text-anchor="middle">1000</text>
<text transform="translate(881.86 1312.2) scale(0.79 1)" font-size="9.3" fill="#8a8a8a" stroke="#8a8a8a" stroke-width="0.2" text-anchor="middle">2000</text>
<text transform="translate(912.19 1312.2) scale(0.79 1)" font-size="9.3" fill="#8a8a8a" stroke="#8a8a8a" stroke-width="0.2" text-anchor="middle">3000</text>
<text transform="translate(942.51 1312.2) scale(0.79 1)" font-size="9.3" fill="#8a8a8a" stroke="#8a8a8a" stroke-width="0.2" text-anchor="middle">4000</text>
<text transform="translate(972.84 1312.2) scale(0.79 1)" font-size="9.3" fill="#8a8a8a" stroke="#8a8a8a" stroke-width="0.2" text-anchor="middle">5000</text>
<text transform="translate(1003.17 1312.2) scale(0.79 1)" font-size="9.3" fill="#8a8a8a" stroke="#8a8a8a" stroke-width="0.2" text-anchor="middle">6000</text>
<text transform="translate(1033.5 1312.2) scale(0.79 1)" font-size="9.3" fill="#8a8a8a" stroke="#8a8a8a" stroke-width="0.2" text-anchor="middle">7000</text>
<path d="M149 1374.6L152.3 1371.3L155.6 1374.6L152.3 1377.9Z" fill="#cfcfcf" stroke="#a6a6a6" stroke-width="0.9"/>
<path d="M151.05 1374.6L152.3 1373.35L153.55 1374.6L152.3 1375.85Z" fill="#666"/>
<text x="159.8" y="1378.65" font-size="10" fill="#3a3a3a" font-weight="bold">数据图表</text>
<text x="202.4" y="1378.17" font-size="8.8" fill="#9c9c9c">Data Charting</text>
<text x="154.1" y="1407.02" font-size="8.7" fill="#5c5c5c">数据项一</text>
<text transform="translate(400.8 1404.84) scale(0.82 1)" font-size="9.4" fill="#505050" stroke="#505050" stroke-width="0.2" text-anchor="end">8000</text>
<rect x="152.8" y="1415.15" width="248" height="7.5" fill="#c8dcfb" rx="3.75"/>
<rect x="152.8" y="1415.15" width="201.3" height="7.5" fill="url(#g16)" rx="3.75"/>
<text x="154.1" y="1439.42" font-size="8.7" fill="#5c5c5c">数据项二</text>
<text transform="translate(400.8 1437.24) scale(0.82 1)" font-size="9.4" fill="#505050" stroke="#505050" stroke-width="0.2" text-anchor="end">7000</text>
<rect x="152.8" y="1447.35" width="248" height="7.5" fill="#c8dcfb" rx="3.75"/>
<rect x="152.8" y="1447.35" width="179.2" height="7.5" fill="url(#g16)" rx="3.75"/>
<text x="154.1" y="1471.72" font-size="8.7" fill="#5c5c5c">数据项三</text>
<text transform="translate(400.8 1469.54) scale(0.82 1)" font-size="9.4" fill="#505050" stroke="#505050" stroke-width="0.2" text-anchor="end">6000</text>
<rect x="152.8" y="1479.65" width="248" height="7.5" fill="#c8dcfb" rx="3.75"/>
<rect x="152.8" y="1479.65" width="130.4" height="7.5" fill="url(#g16)" rx="3.75"/>
<text x="154.1" y="1503.92" font-size="8.7" fill="#5c5c5c">数据项四</text>
<text transform="translate(400.8 1501.74) scale(0.82 1)" font-size="9.4" fill="#505050" stroke="#505050" stroke-width="0.2" text-anchor="end">5000</text>
<rect x="152.8" y="1511.95" width="248" height="7.5" fill="#c8dcfb" rx="3.75"/>
<rect x="152.8" y="1511.95" width="97.9" height="7.5" fill="url(#g16)" rx="3.75"/>
<text x="154.1" y="1536.52" font-size="8.7" fill="#5c5c5c">数据项五</text>
<text transform="translate(400.8 1534.34) scale(0.82 1)" font-size="9.4" fill="#505050" stroke="#505050" stroke-width="0.2" text-anchor="end">4000</text>
<rect x="152.8" y="1544.25" width="248" height="7.5" fill="#c8dcfb" rx="3.75"/>
<rect x="152.8" y="1544.25" width="70.1" height="7.5" fill="url(#g16)" rx="3.75"/>
<path d="M473.7 1374.6L477 1371.3L480.3 1374.6L477 1377.9Z" fill="#cfcfcf" stroke="#a6a6a6" stroke-width="0.9"/>
<path d="M475.75 1374.6L477 1373.35L478.25 1374.6L477 1375.85Z" fill="#666"/>
<text x="484.5" y="1378.65" font-size="10" fill="#3a3a3a" font-weight="bold">数据图表</text>
<text x="527.1" y="1378.17" font-size="8.8" fill="#9c9c9c">Data Charting</text>
<text x="479.8" y="1407.02" font-size="8.7" fill="#5c5c5c">数据项一</text>
<text transform="translate(726.3 1404.84) scale(0.82 1)" font-size="9.4" fill="#505050" stroke="#505050" stroke-width="0.2" text-anchor="end">8000</text>
<rect x="478.3" y="1415.15" width="248" height="7.5" fill="#e5e5e5"/>
<rect x="600.4" y="1415.15" width="62.73" height="7.5" fill="url(#g17b)"/>
<rect x="539.07" y="1415.15" width="61.93" height="7.5" fill="url(#g17r)"/>
<rect x="478.33" y="1415.15" width="61.33" height="7.5" fill="url(#g17y)"/>
<text x="479.8" y="1439.42" font-size="8.7" fill="#5c5c5c">数据项二</text>
<text transform="translate(726.3 1437.24) scale(0.82 1)" font-size="9.4" fill="#505050" stroke="#505050" stroke-width="0.2" text-anchor="end">7000</text>
<rect x="478.3" y="1447.35" width="248" height="7.5" fill="#e5e5e5"/>
<rect x="612.4" y="1447.35" width="68.07" height="7.5" fill="url(#g17b)"/>
<rect x="545.2" y="1447.35" width="67.8" height="7.5" fill="url(#g17r)"/>
<rect x="478.33" y="1447.35" width="67.47" height="7.5" fill="url(#g17y)"/>
<text x="479.8" y="1471.72" font-size="8.7" fill="#5c5c5c">数据项三</text>
<text transform="translate(726.3 1469.54) scale(0.82 1)" font-size="9.4" fill="#505050" stroke="#505050" stroke-width="0.2" text-anchor="end">6000</text>
<rect x="478.3" y="1479.65" width="248" height="7.5" fill="#e5e5e5"/>
<rect x="575.6" y="1479.65" width="50.47" height="7.5" fill="url(#g17b)"/>
<rect x="526.27" y="1479.65" width="49.93" height="7.5" fill="url(#g17r)"/>
<rect x="478.33" y="1479.65" width="48.53" height="7.5" fill="url(#g17y)"/>
<text x="479.8" y="1503.92" font-size="8.7" fill="#5c5c5c">数据项四</text>
<text transform="translate(726.3 1501.74) scale(0.82 1)" font-size="9.4" fill="#505050" stroke="#505050" stroke-width="0.2" text-anchor="end">5000</text>
<rect x="478.3" y="1511.95" width="248" height="7.5" fill="#e5e5e5"/>
<rect x="575.6" y="1511.95" width="50.47" height="7.5" fill="url(#g17b)"/>
<rect x="527.33" y="1511.95" width="48.87" height="7.5" fill="url(#g17r)"/>
<rect x="478.33" y="1511.95" width="49.6" height="7.5" fill="url(#g17y)"/>
<text x="479.8" y="1536.52" font-size="8.7" fill="#5c5c5c">数据项五</text>
<text transform="translate(726.3 1534.34) scale(0.82 1)" font-size="9.4" fill="#505050" stroke="#505050" stroke-width="0.2" text-anchor="end">4000</text>
<rect x="478.3" y="1544.25" width="248" height="7.5" fill="#e5e5e5"/>
<rect x="588.13" y="1544.25" width="56.33" height="7.5" fill="url(#g17b)"/>
<rect x="533.47" y="1544.25" width="55.27" height="7.5" fill="url(#g17r)"/>
<rect x="478.33" y="1544.25" width="55.73" height="7.5" fill="url(#g17y)"/>
<path d="M795.8 1374.6L799.1 1371.3L802.4 1374.6L799.1 1377.9Z" fill="#cfcfcf" stroke="#a6a6a6" stroke-width="0.9"/>
<path d="M797.85 1374.6L799.1 1373.35L800.35 1374.6L799.1 1375.85Z" fill="#666"/>
<text x="806.6" y="1378.65" font-size="10" fill="#3a3a3a" font-weight="bold">数据图表</text>
<text x="849.2" y="1378.17" font-size="8.8" fill="#9c9c9c">Data Charting</text>
<text x="798.4" y="1410.76" font-size="8.8" fill="#5e5e5e">数据项一</text>
<rect x="843.7" y="1402.55" width="177.3" height="7.5" fill="#e5e5e5"/>
<rect x="843.7" y="1402.55" width="158.6" height="7.5" fill="url(#g18)"/>
<text transform="translate(1033.8 1410.84) scale(0.82 1)" font-size="9.4" fill="#555" stroke="#555" stroke-width="0.2" text-anchor="start">8000</text>
<text x="798.4" y="1438.76" font-size="8.8" fill="#5e5e5e">数据项二</text>
<rect x="843.7" y="1430.55" width="177.3" height="7.5" fill="#e5e5e5"/>
<rect x="843.7" y="1430.55" width="128.8" height="7.5" fill="url(#g18)"/>
<text transform="translate(1033.8 1438.84) scale(0.82 1)" font-size="9.4" fill="#555" stroke="#555" stroke-width="0.2" text-anchor="start">7000</text>
<text x="798.4" y="1466.56" font-size="8.8" fill="#5e5e5e">数据项三</text>
<rect x="843.7" y="1458.35" width="177.3" height="7.5" fill="#e5e5e5"/>
<rect x="843.7" y="1458.35" width="100.2" height="7.5" fill="url(#g18)"/>
<text transform="translate(1033.8 1466.64) scale(0.82 1)" font-size="9.4" fill="#555" stroke="#555" stroke-width="0.2" text-anchor="start">6000</text>
<text x="798.4" y="1494.26" font-size="8.8" fill="#5e5e5e">数据项四</text>
<rect x="843.7" y="1486.05" width="177.3" height="7.5" fill="#e5e5e5"/>
<rect x="843.7" y="1486.05" width="83.4" height="7.5" fill="url(#g18)"/>
<text transform="translate(1033.8 1494.34) scale(0.82 1)" font-size="9.4" fill="#555" stroke="#555" stroke-width="0.2" text-anchor="start">5000</text>
<text x="798.4" y="1522.26" font-size="8.8" fill="#5e5e5e">数据项五</text>
<rect x="843.7" y="1514.05" width="177.3" height="7.5" fill="#e5e5e5"/>
<rect x="843.7" y="1514.05" width="73" height="7.5" fill="url(#g18)"/>
<text transform="translate(1033.8 1522.34) scale(0.82 1)" font-size="9.4" fill="#555" stroke="#555" stroke-width="0.2" text-anchor="start">4000</text>
<text x="798.4" y="1549.96" font-size="8.8" fill="#5e5e5e">数据项六</text>
<rect x="843.7" y="1541.75" width="177.3" height="7.5" fill="#e5e5e5"/>
<rect x="843.7" y="1541.75" width="58.1" height="7.5" fill="url(#g18)"/>
<text transform="translate(1033.8 1550.04) scale(0.82 1)" font-size="9.4" fill="#555" stroke="#555" stroke-width="0.2" text-anchor="start">3000</text>
</svg>
</body>
</html>
